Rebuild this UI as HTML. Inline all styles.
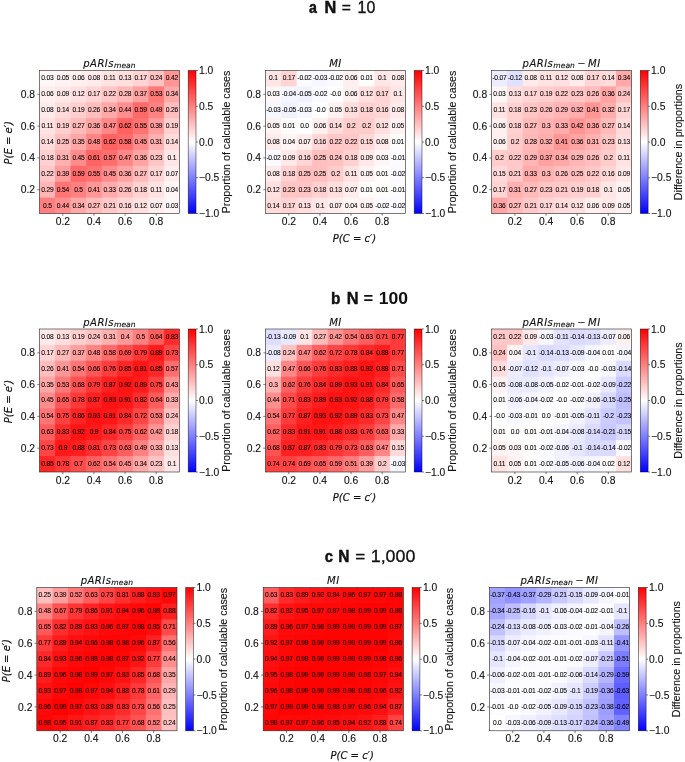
<!DOCTYPE html>
<html lang="en">
<head>
<meta charset="utf-8">
<title>Heatmaps of pARIs mean and MI</title>
<style>
html,body{margin:0;padding:0;background:#fff;}
body{width:685px;height:762px;overflow:hidden;}
svg{display:block;}
</style>
</head>
<body>
<svg width="685" height="762" viewBox="0 0 685 762">
<defs><linearGradient id="bwr" x1="0" y1="0" x2="0" y2="1"><stop offset="0" stop-color="#ff0000"/><stop offset="0.5" stop-color="#ffffff"/><stop offset="1" stop-color="#0000ff"/></linearGradient></defs>
<rect width="685" height="762" fill="#fff"/>
<text transform="translate(308.93 12.5) scale(0.8778 1)" font-family="'Liberation Sans', Arial, Helvetica, sans-serif" font-size="16.1" font-weight="bold" fill="#111" stroke="#111" stroke-width="0.5">a</text>
<text transform="translate(324.56 12.5) scale(1.0127 1)" font-family="'Liberation Sans', Arial, Helvetica, sans-serif" font-size="16.1" font-weight="bold" fill="#111" stroke="#111" stroke-width="0.5">N</text>
<text transform="translate(341.84 12.5) scale(0.9723 1)" font-family="'Liberation Sans', Arial, Helvetica, sans-serif" font-size="16.1" fill="#111" stroke="#111" stroke-width="0.35">=</text>
<text transform="translate(357.56 12.5) scale(0.9893 1)" font-family="'Liberation Sans', Arial, Helvetica, sans-serif" font-size="16.1" fill="#111" stroke="#111" stroke-width="0.35">10</text>
<text transform="translate(331.02 303.5) scale(0.9529 1)" font-family="'Liberation Sans', Arial, Helvetica, sans-serif" font-size="16.2" font-weight="bold" fill="#111" stroke="#111" stroke-width="0.4">b</text>
<text transform="translate(346.86 303.5) scale(1.0127 1)" font-family="'Liberation Sans', Arial, Helvetica, sans-serif" font-size="16.2" font-weight="bold" fill="#111" stroke="#111" stroke-width="0.4">N</text>
<text transform="translate(363.41 303.5) scale(1.0215 1)" font-family="'Liberation Sans', Arial, Helvetica, sans-serif" font-size="16.2" font-weight="bold" fill="#111">=</text>
<text transform="translate(378.77 303.5) scale(1.0837 1)" font-family="'Liberation Sans', Arial, Helvetica, sans-serif" font-size="16.2" font-weight="bold" fill="#111">100</text>
<text transform="translate(324.81 562.1) scale(0.9059 1)" font-family="'Liberation Sans', Arial, Helvetica, sans-serif" font-size="16.3" font-weight="bold" fill="#111" stroke="#111" stroke-width="0.5">c</text>
<text transform="translate(338.32 562.1) scale(0.9500 1)" font-family="'Liberation Sans', Arial, Helvetica, sans-serif" font-size="16.3" font-weight="bold" fill="#111" stroke="#111" stroke-width="0.5">N</text>
<text transform="translate(355.2 562.1) scale(1.0424 1)" font-family="'Liberation Sans', Arial, Helvetica, sans-serif" font-size="16.3" fill="#111" stroke="#111" stroke-width="0.3">=</text>
<text transform="translate(370.72 562.1) scale(1.0939 1)" font-family="'Liberation Sans', Arial, Helvetica, sans-serif" font-size="16.3" fill="#111" stroke="#111" stroke-width="0.3">1,000</text>
<g>
<g>
<rect x="39.5" y="70.5" width="16.56" height="16.89" fill="#fff7f7"/>
<rect x="55.06" y="70.5" width="16.56" height="16.89" fill="#fff2f2"/>
<rect x="70.61" y="70.5" width="16.56" height="16.89" fill="#fff0f0"/>
<rect x="86.17" y="70.5" width="16.56" height="16.89" fill="#ffebeb"/>
<rect x="101.72" y="70.5" width="16.56" height="16.89" fill="#ffe3e3"/>
<rect x="117.28" y="70.5" width="16.56" height="16.89" fill="#ffdede"/>
<rect x="132.83" y="70.5" width="16.56" height="16.89" fill="#ffd4d4"/>
<rect x="148.39" y="70.5" width="16.56" height="16.89" fill="#ffc2c2"/>
<rect x="163.94" y="70.5" width="15.56" height="16.89" fill="#ff9494"/>
<rect x="39.5" y="86.39" width="16.56" height="16.89" fill="#fff0f0"/>
<rect x="55.06" y="86.39" width="16.56" height="16.89" fill="#ffe8e8"/>
<rect x="70.61" y="86.39" width="16.56" height="16.89" fill="#ffe0e0"/>
<rect x="86.17" y="86.39" width="16.56" height="16.89" fill="#ffd4d4"/>
<rect x="101.72" y="86.39" width="16.56" height="16.89" fill="#ffc7c7"/>
<rect x="117.28" y="86.39" width="16.56" height="16.89" fill="#ffb8b8"/>
<rect x="132.83" y="86.39" width="16.56" height="16.89" fill="#ffa1a1"/>
<rect x="148.39" y="86.39" width="16.56" height="16.89" fill="#ff7878"/>
<rect x="163.94" y="86.39" width="15.56" height="16.89" fill="#ffa8a8"/>
<rect x="39.5" y="102.28" width="16.56" height="16.89" fill="#ffebeb"/>
<rect x="55.06" y="102.28" width="16.56" height="16.89" fill="#ffdbdb"/>
<rect x="70.61" y="102.28" width="16.56" height="16.89" fill="#ffcfcf"/>
<rect x="86.17" y="102.28" width="16.56" height="16.89" fill="#ffbdbd"/>
<rect x="101.72" y="102.28" width="16.56" height="16.89" fill="#ffa8a8"/>
<rect x="117.28" y="102.28" width="16.56" height="16.89" fill="#ff8f8f"/>
<rect x="132.83" y="102.28" width="16.56" height="16.89" fill="#ff6969"/>
<rect x="148.39" y="102.28" width="16.56" height="16.89" fill="#ff8282"/>
<rect x="163.94" y="102.28" width="15.56" height="16.89" fill="#ffbdbd"/>
<rect x="39.5" y="118.17" width="16.56" height="16.89" fill="#ffe3e3"/>
<rect x="55.06" y="118.17" width="16.56" height="16.89" fill="#ffcfcf"/>
<rect x="70.61" y="118.17" width="16.56" height="16.89" fill="#ffbaba"/>
<rect x="86.17" y="118.17" width="16.56" height="16.89" fill="#ffa3a3"/>
<rect x="101.72" y="118.17" width="16.56" height="16.89" fill="#ff8787"/>
<rect x="117.28" y="118.17" width="16.56" height="16.89" fill="#ff6161"/>
<rect x="132.83" y="118.17" width="16.56" height="16.89" fill="#ff7373"/>
<rect x="148.39" y="118.17" width="16.56" height="16.89" fill="#ff9c9c"/>
<rect x="163.94" y="118.17" width="15.56" height="16.89" fill="#ffcfcf"/>
<rect x="39.5" y="134.06" width="16.56" height="16.89" fill="#ffdbdb"/>
<rect x="55.06" y="134.06" width="16.56" height="16.89" fill="#ffbfbf"/>
<rect x="70.61" y="134.06" width="16.56" height="16.89" fill="#ffa6a6"/>
<rect x="86.17" y="134.06" width="16.56" height="16.89" fill="#ff8585"/>
<rect x="101.72" y="134.06" width="16.56" height="16.89" fill="#ff6161"/>
<rect x="117.28" y="134.06" width="16.56" height="16.89" fill="#ff6b6b"/>
<rect x="132.83" y="134.06" width="16.56" height="16.89" fill="#ff8c8c"/>
<rect x="148.39" y="134.06" width="16.56" height="16.89" fill="#ffb0b0"/>
<rect x="163.94" y="134.06" width="15.56" height="16.89" fill="#ffdbdb"/>
<rect x="39.5" y="149.94" width="16.56" height="16.89" fill="#ffd1d1"/>
<rect x="55.06" y="149.94" width="16.56" height="16.89" fill="#ffb0b0"/>
<rect x="70.61" y="149.94" width="16.56" height="16.89" fill="#ff8c8c"/>
<rect x="86.17" y="149.94" width="16.56" height="16.89" fill="#ff6363"/>
<rect x="101.72" y="149.94" width="16.56" height="16.89" fill="#ff6e6e"/>
<rect x="117.28" y="149.94" width="16.56" height="16.89" fill="#ff8787"/>
<rect x="132.83" y="149.94" width="16.56" height="16.89" fill="#ffa3a3"/>
<rect x="148.39" y="149.94" width="16.56" height="16.89" fill="#ffc4c4"/>
<rect x="163.94" y="149.94" width="15.56" height="16.89" fill="#ffe6e6"/>
<rect x="39.5" y="165.83" width="16.56" height="16.89" fill="#ffc7c7"/>
<rect x="55.06" y="165.83" width="16.56" height="16.89" fill="#ff9c9c"/>
<rect x="70.61" y="165.83" width="16.56" height="16.89" fill="#ff6969"/>
<rect x="86.17" y="165.83" width="16.56" height="16.89" fill="#ff7373"/>
<rect x="101.72" y="165.83" width="16.56" height="16.89" fill="#ff8c8c"/>
<rect x="117.28" y="165.83" width="16.56" height="16.89" fill="#ffa3a3"/>
<rect x="132.83" y="165.83" width="16.56" height="16.89" fill="#ffbaba"/>
<rect x="148.39" y="165.83" width="16.56" height="16.89" fill="#ffd4d4"/>
<rect x="163.94" y="165.83" width="15.56" height="16.89" fill="#ffeded"/>
<rect x="39.5" y="181.72" width="16.56" height="16.89" fill="#ffb5b5"/>
<rect x="55.06" y="181.72" width="16.56" height="16.89" fill="#ff7575"/>
<rect x="70.61" y="181.72" width="16.56" height="16.89" fill="#ff8080"/>
<rect x="86.17" y="181.72" width="16.56" height="16.89" fill="#ff9696"/>
<rect x="101.72" y="181.72" width="16.56" height="16.89" fill="#ffabab"/>
<rect x="117.28" y="181.72" width="16.56" height="16.89" fill="#ffbdbd"/>
<rect x="132.83" y="181.72" width="16.56" height="16.89" fill="#ffd1d1"/>
<rect x="148.39" y="181.72" width="16.56" height="16.89" fill="#ffe3e3"/>
<rect x="163.94" y="181.72" width="15.56" height="16.89" fill="#fff5f5"/>
<rect x="39.5" y="197.61" width="16.56" height="15.89" fill="#ff8080"/>
<rect x="55.06" y="197.61" width="16.56" height="15.89" fill="#ff8f8f"/>
<rect x="70.61" y="197.61" width="16.56" height="15.89" fill="#ffa8a8"/>
<rect x="86.17" y="197.61" width="16.56" height="15.89" fill="#ffbaba"/>
<rect x="101.72" y="197.61" width="16.56" height="15.89" fill="#ffc9c9"/>
<rect x="117.28" y="197.61" width="16.56" height="15.89" fill="#ffd6d6"/>
<rect x="132.83" y="197.61" width="16.56" height="15.89" fill="#ffe0e0"/>
<rect x="148.39" y="197.61" width="16.56" height="15.89" fill="#ffeded"/>
<rect x="163.94" y="197.61" width="15.56" height="15.89" fill="#fff7f7"/>
</g>
<g font-family="'Liberation Sans', Arial, Helvetica, sans-serif" font-size="6.7" fill="#000" stroke="#000" stroke-width="0.07" letter-spacing="-0.2" text-anchor="middle">
<text x="47.38" y="80.39">0.03</text>
<text x="62.93" y="80.39">0.05</text>
<text x="78.49" y="80.39">0.06</text>
<text x="94.04" y="80.39">0.08</text>
<text x="109.6" y="80.39">0.11</text>
<text x="125.16" y="80.39">0.13</text>
<text x="140.71" y="80.39">0.17</text>
<text x="156.27" y="80.39">0.24</text>
<text x="171.82" y="80.39">0.42</text>
<text x="47.38" y="96.28">0.06</text>
<text x="62.93" y="96.28">0.09</text>
<text x="78.49" y="96.28">0.12</text>
<text x="94.04" y="96.28">0.17</text>
<text x="109.6" y="96.28">0.22</text>
<text x="125.16" y="96.28">0.28</text>
<text x="140.71" y="96.28">0.37</text>
<text x="156.27" y="96.28">0.53</text>
<text x="171.82" y="96.28">0.34</text>
<text x="47.38" y="112.17">0.08</text>
<text x="62.93" y="112.17">0.14</text>
<text x="78.49" y="112.17">0.19</text>
<text x="94.04" y="112.17">0.26</text>
<text x="109.6" y="112.17">0.34</text>
<text x="125.16" y="112.17">0.44</text>
<text x="140.71" y="112.17">0.59</text>
<text x="156.27" y="112.17">0.49</text>
<text x="171.82" y="112.17">0.26</text>
<text x="47.38" y="128.06">0.11</text>
<text x="62.93" y="128.06">0.19</text>
<text x="78.49" y="128.06">0.27</text>
<text x="94.04" y="128.06">0.36</text>
<text x="109.6" y="128.06">0.47</text>
<text x="125.16" y="128.06">0.62</text>
<text x="140.71" y="128.06">0.55</text>
<text x="156.27" y="128.06">0.39</text>
<text x="171.82" y="128.06">0.19</text>
<text x="47.38" y="143.95">0.14</text>
<text x="62.93" y="143.95">0.25</text>
<text x="78.49" y="143.95">0.35</text>
<text x="94.04" y="143.95">0.48</text>
<text x="109.6" y="143.95">0.62</text>
<text x="125.16" y="143.95">0.58</text>
<text x="140.71" y="143.95">0.45</text>
<text x="156.27" y="143.95">0.31</text>
<text x="171.82" y="143.95">0.14</text>
<text x="47.38" y="159.84">0.18</text>
<text x="62.93" y="159.84">0.31</text>
<text x="78.49" y="159.84">0.45</text>
<text x="94.04" y="159.84">0.61</text>
<text x="109.6" y="159.84">0.57</text>
<text x="125.16" y="159.84">0.47</text>
<text x="140.71" y="159.84">0.36</text>
<text x="156.27" y="159.84">0.23</text>
<text x="171.82" y="159.84">0.1</text>
<text x="47.38" y="175.73">0.22</text>
<text x="62.93" y="175.73">0.39</text>
<text x="78.49" y="175.73">0.59</text>
<text x="94.04" y="175.73">0.55</text>
<text x="109.6" y="175.73">0.45</text>
<text x="125.16" y="175.73">0.36</text>
<text x="140.71" y="175.73">0.27</text>
<text x="156.27" y="175.73">0.17</text>
<text x="171.82" y="175.73">0.07</text>
<text x="47.38" y="191.62">0.29</text>
<text x="62.93" y="191.62">0.54</text>
<text x="78.49" y="191.62">0.5</text>
<text x="94.04" y="191.62">0.41</text>
<text x="109.6" y="191.62">0.33</text>
<text x="125.16" y="191.62">0.26</text>
<text x="140.71" y="191.62">0.18</text>
<text x="156.27" y="191.62">0.11</text>
<text x="171.82" y="191.62">0.04</text>
<text x="47.38" y="207.51">0.5</text>
<text x="62.93" y="207.51">0.44</text>
<text x="78.49" y="207.51">0.34</text>
<text x="94.04" y="207.51">0.27</text>
<text x="109.6" y="207.51">0.21</text>
<text x="125.16" y="207.51">0.16</text>
<text x="140.71" y="207.51">0.12</text>
<text x="156.27" y="207.51">0.07</text>
<text x="171.82" y="207.51">0.03</text>
</g>
<rect x="39.5" y="70.5" width="140" height="143" fill="none" stroke="#222" stroke-width="0.6"/>
<g stroke="#222" stroke-width="0.6">
<line x1="62.83" y1="213.5" x2="62.83" y2="215.7"/>
<line x1="37.3" y1="94.33" x2="39.5" y2="94.33"/>
<line x1="93.94" y1="213.5" x2="93.94" y2="215.7"/>
<line x1="37.3" y1="126.11" x2="39.5" y2="126.11"/>
<line x1="125.06" y1="213.5" x2="125.06" y2="215.7"/>
<line x1="37.3" y1="157.89" x2="39.5" y2="157.89"/>
<line x1="156.17" y1="213.5" x2="156.17" y2="215.7"/>
<line x1="37.3" y1="189.67" x2="39.5" y2="189.67"/>
</g>
<g font-family="'Liberation Sans', Arial, Helvetica, sans-serif" font-size="10.3" fill="#111" stroke="#111" stroke-width="0.12">
<text x="62.83" y="224.8" text-anchor="middle">0.2</text>
<text x="93.94" y="224.8" text-anchor="middle">0.4</text>
<text x="125.06" y="224.8" text-anchor="middle">0.6</text>
<text x="156.17" y="224.8" text-anchor="middle">0.8</text>
<text x="35.1" y="97.93" text-anchor="end">0.8</text>
<text x="35.1" y="129.71" text-anchor="end">0.6</text>
<text x="35.1" y="161.49" text-anchor="end">0.4</text>
<text x="35.1" y="193.27" text-anchor="end">0.2</text>
</g>
<text x="109.5" y="67.3" font-family="'DejaVu Sans', 'Liberation Sans', sans-serif" font-style="oblique" font-size="10.1" letter-spacing="0.42" fill="#111" stroke="#111" stroke-width="0.12" text-anchor="middle">pARIs<tspan font-size="7.6" letter-spacing="0.05" dy="1.0">mean</tspan></text>
<text transform="translate(12.3 142.8) rotate(-90)" font-family="'DejaVu Sans', 'Liberation Sans', sans-serif" font-style="oblique" font-size="10" fill="#111" stroke="#111" stroke-width="0.2" text-anchor="middle">P(E = e′)</text>
<rect x="188.2" y="70.5" width="7.8" height="143" fill="url(#bwr)" stroke="#000" stroke-opacity="0.75" stroke-width="0.6"/>
<g stroke="#222" stroke-width="0.6">
<line x1="196" y1="70.5" x2="197.9" y2="70.5"/>
<line x1="196" y1="106.25" x2="197.9" y2="106.25"/>
<line x1="196" y1="142" x2="197.9" y2="142"/>
<line x1="196" y1="177.75" x2="197.9" y2="177.75"/>
<line x1="196" y1="213.5" x2="197.9" y2="213.5"/>
</g>
<g font-family="'Liberation Sans', Arial, Helvetica, sans-serif" font-size="10.3" fill="#111" stroke="#111" stroke-width="0.12">
<text x="199" y="74.1">1.0</text>
<text x="199" y="109.85">0.5</text>
<text x="199" y="145.6">0.0</text>
<text x="199" y="181.35">−0.5</text>
<text x="199" y="217.1">−1.0</text>
</g>
<text transform="translate(229.5 142) rotate(-90)" font-family="'Liberation Sans', Arial, Helvetica, sans-serif" font-size="10.7" fill="#111" stroke="#111" stroke-width="0.12" text-anchor="middle">Proportion of calculable cases</text>
</g>
<g>
<g>
<rect x="265.5" y="70.5" width="16.56" height="16.89" fill="#ffe6e6"/>
<rect x="281.06" y="70.5" width="16.56" height="16.89" fill="#ffd4d4"/>
<rect x="296.61" y="70.5" width="16.56" height="16.89" fill="#fafaff"/>
<rect x="312.17" y="70.5" width="16.56" height="16.89" fill="#f7f7ff"/>
<rect x="327.72" y="70.5" width="16.56" height="16.89" fill="#fafaff"/>
<rect x="343.28" y="70.5" width="16.56" height="16.89" fill="#fff0f0"/>
<rect x="358.83" y="70.5" width="16.56" height="16.89" fill="#fffcfc"/>
<rect x="374.39" y="70.5" width="16.56" height="16.89" fill="#ffe6e6"/>
<rect x="389.94" y="70.5" width="15.56" height="16.89" fill="#ffebeb"/>
<rect x="265.5" y="86.39" width="16.56" height="16.89" fill="#fff7f7"/>
<rect x="281.06" y="86.39" width="16.56" height="16.89" fill="#f5f5ff"/>
<rect x="296.61" y="86.39" width="16.56" height="16.89" fill="#f2f2ff"/>
<rect x="312.17" y="86.39" width="16.56" height="16.89" fill="#fafaff"/>
<rect x="327.72" y="86.39" width="16.56" height="16.89" fill="#ffffff"/>
<rect x="343.28" y="86.39" width="16.56" height="16.89" fill="#fff0f0"/>
<rect x="358.83" y="86.39" width="16.56" height="16.89" fill="#ffe0e0"/>
<rect x="374.39" y="86.39" width="16.56" height="16.89" fill="#ffd4d4"/>
<rect x="389.94" y="86.39" width="15.56" height="16.89" fill="#ffe6e6"/>
<rect x="265.5" y="102.28" width="16.56" height="16.89" fill="#f7f7ff"/>
<rect x="281.06" y="102.28" width="16.56" height="16.89" fill="#f2f2ff"/>
<rect x="296.61" y="102.28" width="16.56" height="16.89" fill="#f7f7ff"/>
<rect x="312.17" y="102.28" width="16.56" height="16.89" fill="#ffffff"/>
<rect x="327.72" y="102.28" width="16.56" height="16.89" fill="#fff2f2"/>
<rect x="343.28" y="102.28" width="16.56" height="16.89" fill="#ffdede"/>
<rect x="358.83" y="102.28" width="16.56" height="16.89" fill="#ffd1d1"/>
<rect x="374.39" y="102.28" width="16.56" height="16.89" fill="#ffd6d6"/>
<rect x="389.94" y="102.28" width="15.56" height="16.89" fill="#ffebeb"/>
<rect x="265.5" y="118.17" width="16.56" height="16.89" fill="#fff2f2"/>
<rect x="281.06" y="118.17" width="16.56" height="16.89" fill="#fffcfc"/>
<rect x="296.61" y="118.17" width="16.56" height="16.89" fill="#ffffff"/>
<rect x="312.17" y="118.17" width="16.56" height="16.89" fill="#fff0f0"/>
<rect x="327.72" y="118.17" width="16.56" height="16.89" fill="#ffdbdb"/>
<rect x="343.28" y="118.17" width="16.56" height="16.89" fill="#ffcccc"/>
<rect x="358.83" y="118.17" width="16.56" height="16.89" fill="#ffcccc"/>
<rect x="374.39" y="118.17" width="16.56" height="16.89" fill="#ffe0e0"/>
<rect x="389.94" y="118.17" width="15.56" height="16.89" fill="#fff2f2"/>
<rect x="265.5" y="134.06" width="16.56" height="16.89" fill="#ffebeb"/>
<rect x="281.06" y="134.06" width="16.56" height="16.89" fill="#fff5f5"/>
<rect x="296.61" y="134.06" width="16.56" height="16.89" fill="#ffeded"/>
<rect x="312.17" y="134.06" width="16.56" height="16.89" fill="#ffd6d6"/>
<rect x="327.72" y="134.06" width="16.56" height="16.89" fill="#ffc7c7"/>
<rect x="343.28" y="134.06" width="16.56" height="16.89" fill="#ffc7c7"/>
<rect x="358.83" y="134.06" width="16.56" height="16.89" fill="#ffd9d9"/>
<rect x="374.39" y="134.06" width="16.56" height="16.89" fill="#ffebeb"/>
<rect x="389.94" y="134.06" width="15.56" height="16.89" fill="#fffcfc"/>
<rect x="265.5" y="149.94" width="16.56" height="16.89" fill="#fafaff"/>
<rect x="281.06" y="149.94" width="16.56" height="16.89" fill="#ffe8e8"/>
<rect x="296.61" y="149.94" width="16.56" height="16.89" fill="#ffd6d6"/>
<rect x="312.17" y="149.94" width="16.56" height="16.89" fill="#ffbfbf"/>
<rect x="327.72" y="149.94" width="16.56" height="16.89" fill="#ffc2c2"/>
<rect x="343.28" y="149.94" width="16.56" height="16.89" fill="#ffd1d1"/>
<rect x="358.83" y="149.94" width="16.56" height="16.89" fill="#ffe8e8"/>
<rect x="374.39" y="149.94" width="16.56" height="16.89" fill="#fff7f7"/>
<rect x="389.94" y="149.94" width="15.56" height="16.89" fill="#fcfcff"/>
<rect x="265.5" y="165.83" width="16.56" height="16.89" fill="#ffebeb"/>
<rect x="281.06" y="165.83" width="16.56" height="16.89" fill="#ffd1d1"/>
<rect x="296.61" y="165.83" width="16.56" height="16.89" fill="#ffbfbf"/>
<rect x="312.17" y="165.83" width="16.56" height="16.89" fill="#ffbfbf"/>
<rect x="327.72" y="165.83" width="16.56" height="16.89" fill="#ffcccc"/>
<rect x="343.28" y="165.83" width="16.56" height="16.89" fill="#ffe3e3"/>
<rect x="358.83" y="165.83" width="16.56" height="16.89" fill="#fff2f2"/>
<rect x="374.39" y="165.83" width="16.56" height="16.89" fill="#fffcfc"/>
<rect x="389.94" y="165.83" width="15.56" height="16.89" fill="#fafaff"/>
<rect x="265.5" y="181.72" width="16.56" height="16.89" fill="#ffe0e0"/>
<rect x="281.06" y="181.72" width="16.56" height="16.89" fill="#ffc4c4"/>
<rect x="296.61" y="181.72" width="16.56" height="16.89" fill="#ffc4c4"/>
<rect x="312.17" y="181.72" width="16.56" height="16.89" fill="#ffd1d1"/>
<rect x="327.72" y="181.72" width="16.56" height="16.89" fill="#ffdede"/>
<rect x="343.28" y="181.72" width="16.56" height="16.89" fill="#ffeded"/>
<rect x="358.83" y="181.72" width="16.56" height="16.89" fill="#fffcfc"/>
<rect x="374.39" y="181.72" width="16.56" height="16.89" fill="#fffcfc"/>
<rect x="389.94" y="181.72" width="15.56" height="16.89" fill="#fcfcff"/>
<rect x="265.5" y="197.61" width="16.56" height="15.89" fill="#ffdbdb"/>
<rect x="281.06" y="197.61" width="16.56" height="15.89" fill="#ffd4d4"/>
<rect x="296.61" y="197.61" width="16.56" height="15.89" fill="#ffdede"/>
<rect x="312.17" y="197.61" width="16.56" height="15.89" fill="#ffe6e6"/>
<rect x="327.72" y="197.61" width="16.56" height="15.89" fill="#ffeded"/>
<rect x="343.28" y="197.61" width="16.56" height="15.89" fill="#fff5f5"/>
<rect x="358.83" y="197.61" width="16.56" height="15.89" fill="#fff2f2"/>
<rect x="374.39" y="197.61" width="16.56" height="15.89" fill="#fafaff"/>
<rect x="389.94" y="197.61" width="15.56" height="15.89" fill="#fafaff"/>
</g>
<g font-family="'Liberation Sans', Arial, Helvetica, sans-serif" font-size="6.7" fill="#000" stroke="#000" stroke-width="0.07" letter-spacing="-0.2" text-anchor="middle">
<text x="273.38" y="80.39">0.1</text>
<text x="288.93" y="80.39">0.17</text>
<text x="304.49" y="80.39">-0.02</text>
<text x="320.04" y="80.39">-0.03</text>
<text x="335.6" y="80.39">-0.02</text>
<text x="351.16" y="80.39">0.06</text>
<text x="366.71" y="80.39">0.01</text>
<text x="382.27" y="80.39">0.1</text>
<text x="397.82" y="80.39">0.08</text>
<text x="273.38" y="96.28">0.03</text>
<text x="288.93" y="96.28">-0.04</text>
<text x="304.49" y="96.28">-0.05</text>
<text x="320.04" y="96.28">-0.02</text>
<text x="335.6" y="96.28">-0.0</text>
<text x="351.16" y="96.28">0.06</text>
<text x="366.71" y="96.28">0.12</text>
<text x="382.27" y="96.28">0.17</text>
<text x="397.82" y="96.28">0.1</text>
<text x="273.38" y="112.17">-0.03</text>
<text x="288.93" y="112.17">-0.05</text>
<text x="304.49" y="112.17">-0.03</text>
<text x="320.04" y="112.17">-0.0</text>
<text x="335.6" y="112.17">0.05</text>
<text x="351.16" y="112.17">0.13</text>
<text x="366.71" y="112.17">0.18</text>
<text x="382.27" y="112.17">0.16</text>
<text x="397.82" y="112.17">0.08</text>
<text x="273.38" y="128.06">0.05</text>
<text x="288.93" y="128.06">0.01</text>
<text x="304.49" y="128.06">0.0</text>
<text x="320.04" y="128.06">0.06</text>
<text x="335.6" y="128.06">0.14</text>
<text x="351.16" y="128.06">0.2</text>
<text x="366.71" y="128.06">0.2</text>
<text x="382.27" y="128.06">0.12</text>
<text x="397.82" y="128.06">0.05</text>
<text x="273.38" y="143.95">0.08</text>
<text x="288.93" y="143.95">0.04</text>
<text x="304.49" y="143.95">0.07</text>
<text x="320.04" y="143.95">0.16</text>
<text x="335.6" y="143.95">0.22</text>
<text x="351.16" y="143.95">0.22</text>
<text x="366.71" y="143.95">0.15</text>
<text x="382.27" y="143.95">0.08</text>
<text x="397.82" y="143.95">0.01</text>
<text x="273.38" y="159.84">-0.02</text>
<text x="288.93" y="159.84">0.09</text>
<text x="304.49" y="159.84">0.16</text>
<text x="320.04" y="159.84">0.25</text>
<text x="335.6" y="159.84">0.24</text>
<text x="351.16" y="159.84">0.18</text>
<text x="366.71" y="159.84">0.09</text>
<text x="382.27" y="159.84">0.03</text>
<text x="397.82" y="159.84">-0.01</text>
<text x="273.38" y="175.73">0.08</text>
<text x="288.93" y="175.73">0.18</text>
<text x="304.49" y="175.73">0.25</text>
<text x="320.04" y="175.73">0.25</text>
<text x="335.6" y="175.73">0.2</text>
<text x="351.16" y="175.73">0.11</text>
<text x="366.71" y="175.73">0.05</text>
<text x="382.27" y="175.73">0.01</text>
<text x="397.82" y="175.73">-0.02</text>
<text x="273.38" y="191.62">0.12</text>
<text x="288.93" y="191.62">0.23</text>
<text x="304.49" y="191.62">0.23</text>
<text x="320.04" y="191.62">0.18</text>
<text x="335.6" y="191.62">0.13</text>
<text x="351.16" y="191.62">0.07</text>
<text x="366.71" y="191.62">0.01</text>
<text x="382.27" y="191.62">0.01</text>
<text x="397.82" y="191.62">-0.01</text>
<text x="273.38" y="207.51">0.14</text>
<text x="288.93" y="207.51">0.17</text>
<text x="304.49" y="207.51">0.13</text>
<text x="320.04" y="207.51">0.1</text>
<text x="335.6" y="207.51">0.07</text>
<text x="351.16" y="207.51">0.04</text>
<text x="366.71" y="207.51">0.05</text>
<text x="382.27" y="207.51">-0.02</text>
<text x="397.82" y="207.51">-0.02</text>
</g>
<rect x="265.5" y="70.5" width="140" height="143" fill="none" stroke="#222" stroke-width="0.6"/>
<g stroke="#222" stroke-width="0.6">
<line x1="288.83" y1="213.5" x2="288.83" y2="215.7"/>
<line x1="263.3" y1="94.33" x2="265.5" y2="94.33"/>
<line x1="319.94" y1="213.5" x2="319.94" y2="215.7"/>
<line x1="263.3" y1="126.11" x2="265.5" y2="126.11"/>
<line x1="351.06" y1="213.5" x2="351.06" y2="215.7"/>
<line x1="263.3" y1="157.89" x2="265.5" y2="157.89"/>
<line x1="382.17" y1="213.5" x2="382.17" y2="215.7"/>
<line x1="263.3" y1="189.67" x2="265.5" y2="189.67"/>
</g>
<g font-family="'Liberation Sans', Arial, Helvetica, sans-serif" font-size="10.3" fill="#111" stroke="#111" stroke-width="0.12">
<text x="288.83" y="224.8" text-anchor="middle">0.2</text>
<text x="319.94" y="224.8" text-anchor="middle">0.4</text>
<text x="351.06" y="224.8" text-anchor="middle">0.6</text>
<text x="382.17" y="224.8" text-anchor="middle">0.8</text>
<text x="261.1" y="97.93" text-anchor="end">0.8</text>
<text x="261.1" y="129.71" text-anchor="end">0.6</text>
<text x="261.1" y="161.49" text-anchor="end">0.4</text>
<text x="261.1" y="193.27" text-anchor="end">0.2</text>
</g>
<text x="335.5" y="67.3" font-family="'DejaVu Sans', 'Liberation Sans', sans-serif" font-style="oblique" font-size="10.1" letter-spacing="0.42" fill="#111" stroke="#111" stroke-width="0.12" text-anchor="middle">MI</text>
<text x="354.5" y="241.7" font-family="'DejaVu Sans', 'Liberation Sans', sans-serif" font-style="oblique" font-size="10" fill="#111" stroke="#111" stroke-width="0.2" text-anchor="middle">P(C = c′)</text>
<rect x="414.2" y="70.5" width="7.8" height="143" fill="url(#bwr)" stroke="#000" stroke-opacity="0.75" stroke-width="0.6"/>
<g stroke="#222" stroke-width="0.6">
<line x1="422" y1="70.5" x2="423.9" y2="70.5"/>
<line x1="422" y1="106.25" x2="423.9" y2="106.25"/>
<line x1="422" y1="142" x2="423.9" y2="142"/>
<line x1="422" y1="177.75" x2="423.9" y2="177.75"/>
<line x1="422" y1="213.5" x2="423.9" y2="213.5"/>
</g>
<g font-family="'Liberation Sans', Arial, Helvetica, sans-serif" font-size="10.3" fill="#111" stroke="#111" stroke-width="0.12">
<text x="425" y="74.1">1.0</text>
<text x="425" y="109.85">0.5</text>
<text x="425" y="145.6">0.0</text>
<text x="425" y="181.35">−0.5</text>
<text x="425" y="217.1">−1.0</text>
</g>
<text transform="translate(455.5 142) rotate(-90)" font-family="'Liberation Sans', Arial, Helvetica, sans-serif" font-size="10.7" fill="#111" stroke="#111" stroke-width="0.12" text-anchor="middle">Proportion of calculable cases</text>
</g>
<g>
<g>
<rect x="491.6" y="70.5" width="16.56" height="16.89" fill="#ededff"/>
<rect x="507.16" y="70.5" width="16.56" height="16.89" fill="#e0e0ff"/>
<rect x="522.71" y="70.5" width="16.56" height="16.89" fill="#ffebeb"/>
<rect x="538.27" y="70.5" width="16.56" height="16.89" fill="#ffe3e3"/>
<rect x="553.82" y="70.5" width="16.56" height="16.89" fill="#ffe0e0"/>
<rect x="569.38" y="70.5" width="16.56" height="16.89" fill="#ffebeb"/>
<rect x="584.93" y="70.5" width="16.56" height="16.89" fill="#ffd4d4"/>
<rect x="600.49" y="70.5" width="16.56" height="16.89" fill="#ffdbdb"/>
<rect x="616.04" y="70.5" width="15.56" height="16.89" fill="#ffa8a8"/>
<rect x="491.6" y="86.39" width="16.56" height="16.89" fill="#fff7f7"/>
<rect x="507.16" y="86.39" width="16.56" height="16.89" fill="#ffdede"/>
<rect x="522.71" y="86.39" width="16.56" height="16.89" fill="#ffd4d4"/>
<rect x="538.27" y="86.39" width="16.56" height="16.89" fill="#ffcfcf"/>
<rect x="553.82" y="86.39" width="16.56" height="16.89" fill="#ffc7c7"/>
<rect x="569.38" y="86.39" width="16.56" height="16.89" fill="#ffc4c4"/>
<rect x="584.93" y="86.39" width="16.56" height="16.89" fill="#ffbdbd"/>
<rect x="600.49" y="86.39" width="16.56" height="16.89" fill="#ffa3a3"/>
<rect x="616.04" y="86.39" width="15.56" height="16.89" fill="#ffc2c2"/>
<rect x="491.6" y="102.28" width="16.56" height="16.89" fill="#ffe3e3"/>
<rect x="507.16" y="102.28" width="16.56" height="16.89" fill="#ffd1d1"/>
<rect x="522.71" y="102.28" width="16.56" height="16.89" fill="#ffc4c4"/>
<rect x="538.27" y="102.28" width="16.56" height="16.89" fill="#ffbdbd"/>
<rect x="553.82" y="102.28" width="16.56" height="16.89" fill="#ffb5b5"/>
<rect x="569.38" y="102.28" width="16.56" height="16.89" fill="#ffadad"/>
<rect x="584.93" y="102.28" width="16.56" height="16.89" fill="#ff9696"/>
<rect x="600.49" y="102.28" width="16.56" height="16.89" fill="#ffadad"/>
<rect x="616.04" y="102.28" width="15.56" height="16.89" fill="#ffd4d4"/>
<rect x="491.6" y="118.17" width="16.56" height="16.89" fill="#fff0f0"/>
<rect x="507.16" y="118.17" width="16.56" height="16.89" fill="#ffd1d1"/>
<rect x="522.71" y="118.17" width="16.56" height="16.89" fill="#ffbaba"/>
<rect x="538.27" y="118.17" width="16.56" height="16.89" fill="#ffb2b2"/>
<rect x="553.82" y="118.17" width="16.56" height="16.89" fill="#ffabab"/>
<rect x="569.38" y="118.17" width="16.56" height="16.89" fill="#ff9494"/>
<rect x="584.93" y="118.17" width="16.56" height="16.89" fill="#ffa3a3"/>
<rect x="600.49" y="118.17" width="16.56" height="16.89" fill="#ffbaba"/>
<rect x="616.04" y="118.17" width="15.56" height="16.89" fill="#ffdbdb"/>
<rect x="491.6" y="134.06" width="16.56" height="16.89" fill="#fff0f0"/>
<rect x="507.16" y="134.06" width="16.56" height="16.89" fill="#ffcccc"/>
<rect x="522.71" y="134.06" width="16.56" height="16.89" fill="#ffb8b8"/>
<rect x="538.27" y="134.06" width="16.56" height="16.89" fill="#ffadad"/>
<rect x="553.82" y="134.06" width="16.56" height="16.89" fill="#ff9696"/>
<rect x="569.38" y="134.06" width="16.56" height="16.89" fill="#ffa3a3"/>
<rect x="584.93" y="134.06" width="16.56" height="16.89" fill="#ffb0b0"/>
<rect x="600.49" y="134.06" width="16.56" height="16.89" fill="#ffc4c4"/>
<rect x="616.04" y="134.06" width="15.56" height="16.89" fill="#ffdede"/>
<rect x="491.6" y="149.94" width="16.56" height="16.89" fill="#ffcccc"/>
<rect x="507.16" y="149.94" width="16.56" height="16.89" fill="#ffc7c7"/>
<rect x="522.71" y="149.94" width="16.56" height="16.89" fill="#ffb5b5"/>
<rect x="538.27" y="149.94" width="16.56" height="16.89" fill="#ffa1a1"/>
<rect x="553.82" y="149.94" width="16.56" height="16.89" fill="#ffa8a8"/>
<rect x="569.38" y="149.94" width="16.56" height="16.89" fill="#ffb5b5"/>
<rect x="584.93" y="149.94" width="16.56" height="16.89" fill="#ffbdbd"/>
<rect x="600.49" y="149.94" width="16.56" height="16.89" fill="#ffcccc"/>
<rect x="616.04" y="149.94" width="15.56" height="16.89" fill="#ffe3e3"/>
<rect x="491.6" y="165.83" width="16.56" height="16.89" fill="#ffd9d9"/>
<rect x="507.16" y="165.83" width="16.56" height="16.89" fill="#ffc9c9"/>
<rect x="522.71" y="165.83" width="16.56" height="16.89" fill="#ffabab"/>
<rect x="538.27" y="165.83" width="16.56" height="16.89" fill="#ffb2b2"/>
<rect x="553.82" y="165.83" width="16.56" height="16.89" fill="#ffbdbd"/>
<rect x="569.38" y="165.83" width="16.56" height="16.89" fill="#ffbfbf"/>
<rect x="584.93" y="165.83" width="16.56" height="16.89" fill="#ffc7c7"/>
<rect x="600.49" y="165.83" width="16.56" height="16.89" fill="#ffd6d6"/>
<rect x="616.04" y="165.83" width="15.56" height="16.89" fill="#ffe8e8"/>
<rect x="491.6" y="181.72" width="16.56" height="16.89" fill="#ffd4d4"/>
<rect x="507.16" y="181.72" width="16.56" height="16.89" fill="#ffb0b0"/>
<rect x="522.71" y="181.72" width="16.56" height="16.89" fill="#ffbaba"/>
<rect x="538.27" y="181.72" width="16.56" height="16.89" fill="#ffc4c4"/>
<rect x="553.82" y="181.72" width="16.56" height="16.89" fill="#ffc9c9"/>
<rect x="569.38" y="181.72" width="16.56" height="16.89" fill="#ffcfcf"/>
<rect x="584.93" y="181.72" width="16.56" height="16.89" fill="#ffd1d1"/>
<rect x="600.49" y="181.72" width="16.56" height="16.89" fill="#ffe6e6"/>
<rect x="616.04" y="181.72" width="15.56" height="16.89" fill="#fff2f2"/>
<rect x="491.6" y="197.61" width="16.56" height="15.89" fill="#ffa3a3"/>
<rect x="507.16" y="197.61" width="16.56" height="15.89" fill="#ffbaba"/>
<rect x="522.71" y="197.61" width="16.56" height="15.89" fill="#ffc9c9"/>
<rect x="538.27" y="197.61" width="16.56" height="15.89" fill="#ffd4d4"/>
<rect x="553.82" y="197.61" width="16.56" height="15.89" fill="#ffdbdb"/>
<rect x="569.38" y="197.61" width="16.56" height="15.89" fill="#ffe0e0"/>
<rect x="584.93" y="197.61" width="16.56" height="15.89" fill="#fff0f0"/>
<rect x="600.49" y="197.61" width="16.56" height="15.89" fill="#ffe8e8"/>
<rect x="616.04" y="197.61" width="15.56" height="15.89" fill="#fff2f2"/>
</g>
<g font-family="'Liberation Sans', Arial, Helvetica, sans-serif" font-size="6.7" fill="#000" stroke="#000" stroke-width="0.07" letter-spacing="-0.2" text-anchor="middle">
<text x="499.48" y="80.39">-0.07</text>
<text x="515.03" y="80.39">-0.12</text>
<text x="530.59" y="80.39">0.08</text>
<text x="546.14" y="80.39">0.11</text>
<text x="561.7" y="80.39">0.12</text>
<text x="577.26" y="80.39">0.08</text>
<text x="592.81" y="80.39">0.17</text>
<text x="608.37" y="80.39">0.14</text>
<text x="623.92" y="80.39">0.34</text>
<text x="499.48" y="96.28">0.03</text>
<text x="515.03" y="96.28">0.13</text>
<text x="530.59" y="96.28">0.17</text>
<text x="546.14" y="96.28">0.19</text>
<text x="561.7" y="96.28">0.22</text>
<text x="577.26" y="96.28">0.23</text>
<text x="592.81" y="96.28">0.26</text>
<text x="608.37" y="96.28">0.36</text>
<text x="623.92" y="96.28">0.24</text>
<text x="499.48" y="112.17">0.11</text>
<text x="515.03" y="112.17">0.18</text>
<text x="530.59" y="112.17">0.23</text>
<text x="546.14" y="112.17">0.26</text>
<text x="561.7" y="112.17">0.29</text>
<text x="577.26" y="112.17">0.32</text>
<text x="592.81" y="112.17">0.41</text>
<text x="608.37" y="112.17">0.32</text>
<text x="623.92" y="112.17">0.17</text>
<text x="499.48" y="128.06">0.06</text>
<text x="515.03" y="128.06">0.18</text>
<text x="530.59" y="128.06">0.27</text>
<text x="546.14" y="128.06">0.3</text>
<text x="561.7" y="128.06">0.33</text>
<text x="577.26" y="128.06">0.42</text>
<text x="592.81" y="128.06">0.36</text>
<text x="608.37" y="128.06">0.27</text>
<text x="623.92" y="128.06">0.14</text>
<text x="499.48" y="143.95">0.06</text>
<text x="515.03" y="143.95">0.2</text>
<text x="530.59" y="143.95">0.28</text>
<text x="546.14" y="143.95">0.32</text>
<text x="561.7" y="143.95">0.41</text>
<text x="577.26" y="143.95">0.36</text>
<text x="592.81" y="143.95">0.31</text>
<text x="608.37" y="143.95">0.23</text>
<text x="623.92" y="143.95">0.13</text>
<text x="499.48" y="159.84">0.2</text>
<text x="515.03" y="159.84">0.22</text>
<text x="530.59" y="159.84">0.29</text>
<text x="546.14" y="159.84">0.37</text>
<text x="561.7" y="159.84">0.34</text>
<text x="577.26" y="159.84">0.29</text>
<text x="592.81" y="159.84">0.26</text>
<text x="608.37" y="159.84">0.2</text>
<text x="623.92" y="159.84">0.11</text>
<text x="499.48" y="175.73">0.15</text>
<text x="515.03" y="175.73">0.21</text>
<text x="530.59" y="175.73">0.33</text>
<text x="546.14" y="175.73">0.3</text>
<text x="561.7" y="175.73">0.26</text>
<text x="577.26" y="175.73">0.25</text>
<text x="592.81" y="175.73">0.22</text>
<text x="608.37" y="175.73">0.16</text>
<text x="623.92" y="175.73">0.09</text>
<text x="499.48" y="191.62">0.17</text>
<text x="515.03" y="191.62">0.31</text>
<text x="530.59" y="191.62">0.27</text>
<text x="546.14" y="191.62">0.23</text>
<text x="561.7" y="191.62">0.21</text>
<text x="577.26" y="191.62">0.19</text>
<text x="592.81" y="191.62">0.18</text>
<text x="608.37" y="191.62">0.1</text>
<text x="623.92" y="191.62">0.05</text>
<text x="499.48" y="207.51">0.36</text>
<text x="515.03" y="207.51">0.27</text>
<text x="530.59" y="207.51">0.21</text>
<text x="546.14" y="207.51">0.17</text>
<text x="561.7" y="207.51">0.14</text>
<text x="577.26" y="207.51">0.12</text>
<text x="592.81" y="207.51">0.06</text>
<text x="608.37" y="207.51">0.09</text>
<text x="623.92" y="207.51">0.05</text>
</g>
<rect x="491.6" y="70.5" width="140" height="143" fill="none" stroke="#222" stroke-width="0.6"/>
<g stroke="#222" stroke-width="0.6">
<line x1="514.93" y1="213.5" x2="514.93" y2="215.7"/>
<line x1="489.4" y1="94.33" x2="491.6" y2="94.33"/>
<line x1="546.04" y1="213.5" x2="546.04" y2="215.7"/>
<line x1="489.4" y1="126.11" x2="491.6" y2="126.11"/>
<line x1="577.16" y1="213.5" x2="577.16" y2="215.7"/>
<line x1="489.4" y1="157.89" x2="491.6" y2="157.89"/>
<line x1="608.27" y1="213.5" x2="608.27" y2="215.7"/>
<line x1="489.4" y1="189.67" x2="491.6" y2="189.67"/>
</g>
<g font-family="'Liberation Sans', Arial, Helvetica, sans-serif" font-size="10.3" fill="#111" stroke="#111" stroke-width="0.12">
<text x="514.93" y="224.8" text-anchor="middle">0.2</text>
<text x="546.04" y="224.8" text-anchor="middle">0.4</text>
<text x="577.16" y="224.8" text-anchor="middle">0.6</text>
<text x="608.27" y="224.8" text-anchor="middle">0.8</text>
<text x="487.2" y="97.93" text-anchor="end">0.8</text>
<text x="487.2" y="129.71" text-anchor="end">0.6</text>
<text x="487.2" y="161.49" text-anchor="end">0.4</text>
<text x="487.2" y="193.27" text-anchor="end">0.2</text>
</g>
<text x="561.6" y="67.3" font-family="'DejaVu Sans', 'Liberation Sans', sans-serif" font-style="oblique" font-size="10.1" letter-spacing="0.42" fill="#111" stroke="#111" stroke-width="0.12" text-anchor="middle">pARIs<tspan font-size="7.6" letter-spacing="0.05" dy="1.0">mean</tspan><tspan dy="-1.0" letter-spacing="0" word-spacing="-0.9"> − </tspan><tspan>MI</tspan></text>
<rect x="640.3" y="70.5" width="7.8" height="143" fill="url(#bwr)" stroke="#000" stroke-opacity="0.75" stroke-width="0.6"/>
<g stroke="#222" stroke-width="0.6">
<line x1="648.1" y1="70.5" x2="650" y2="70.5"/>
<line x1="648.1" y1="106.25" x2="650" y2="106.25"/>
<line x1="648.1" y1="142" x2="650" y2="142"/>
<line x1="648.1" y1="177.75" x2="650" y2="177.75"/>
<line x1="648.1" y1="213.5" x2="650" y2="213.5"/>
</g>
<g font-family="'Liberation Sans', Arial, Helvetica, sans-serif" font-size="10.3" fill="#111" stroke="#111" stroke-width="0.12">
<text x="651.1" y="74.1">1.0</text>
<text x="651.1" y="109.85">0.5</text>
<text x="651.1" y="145.6">0.0</text>
<text x="651.1" y="181.35">−0.5</text>
<text x="651.1" y="217.1">−1.0</text>
</g>
<text transform="translate(681.6 142) rotate(-90)" font-family="'Liberation Sans', Arial, Helvetica, sans-serif" font-size="10.7" fill="#111" stroke="#111" stroke-width="0.12" text-anchor="middle">Difference in proportions</text>
</g>
<g>
<g>
<rect x="39.5" y="329" width="16.56" height="16.89" fill="#ffebeb"/>
<rect x="55.06" y="329" width="16.56" height="16.89" fill="#ffdede"/>
<rect x="70.61" y="329" width="16.56" height="16.89" fill="#ffcfcf"/>
<rect x="86.17" y="329" width="16.56" height="16.89" fill="#ffc2c2"/>
<rect x="101.72" y="329" width="16.56" height="16.89" fill="#ffb0b0"/>
<rect x="117.28" y="329" width="16.56" height="16.89" fill="#ff9999"/>
<rect x="132.83" y="329" width="16.56" height="16.89" fill="#ff8080"/>
<rect x="148.39" y="329" width="16.56" height="16.89" fill="#ff5c5c"/>
<rect x="163.94" y="329" width="15.56" height="16.89" fill="#ff2b2b"/>
<rect x="39.5" y="344.89" width="16.56" height="16.89" fill="#ffd4d4"/>
<rect x="55.06" y="344.89" width="16.56" height="16.89" fill="#ffbaba"/>
<rect x="70.61" y="344.89" width="16.56" height="16.89" fill="#ffa1a1"/>
<rect x="86.17" y="344.89" width="16.56" height="16.89" fill="#ff8585"/>
<rect x="101.72" y="344.89" width="16.56" height="16.89" fill="#ff6b6b"/>
<rect x="117.28" y="344.89" width="16.56" height="16.89" fill="#ff4f4f"/>
<rect x="132.83" y="344.89" width="16.56" height="16.89" fill="#ff3636"/>
<rect x="148.39" y="344.89" width="16.56" height="16.89" fill="#ff1c1c"/>
<rect x="163.94" y="344.89" width="15.56" height="16.89" fill="#ff4545"/>
<rect x="39.5" y="360.78" width="16.56" height="16.89" fill="#ffbdbd"/>
<rect x="55.06" y="360.78" width="16.56" height="16.89" fill="#ff9696"/>
<rect x="70.61" y="360.78" width="16.56" height="16.89" fill="#ff7575"/>
<rect x="86.17" y="360.78" width="16.56" height="16.89" fill="#ff5757"/>
<rect x="101.72" y="360.78" width="16.56" height="16.89" fill="#ff3d3d"/>
<rect x="117.28" y="360.78" width="16.56" height="16.89" fill="#ff2626"/>
<rect x="132.83" y="360.78" width="16.56" height="16.89" fill="#ff1717"/>
<rect x="148.39" y="360.78" width="16.56" height="16.89" fill="#ff2626"/>
<rect x="163.94" y="360.78" width="15.56" height="16.89" fill="#ff6e6e"/>
<rect x="39.5" y="376.67" width="16.56" height="16.89" fill="#ffa6a6"/>
<rect x="55.06" y="376.67" width="16.56" height="16.89" fill="#ff7878"/>
<rect x="70.61" y="376.67" width="16.56" height="16.89" fill="#ff5252"/>
<rect x="86.17" y="376.67" width="16.56" height="16.89" fill="#ff3636"/>
<rect x="101.72" y="376.67" width="16.56" height="16.89" fill="#ff2121"/>
<rect x="117.28" y="376.67" width="16.56" height="16.89" fill="#ff1414"/>
<rect x="132.83" y="376.67" width="16.56" height="16.89" fill="#ff1c1c"/>
<rect x="148.39" y="376.67" width="16.56" height="16.89" fill="#ff4040"/>
<rect x="163.94" y="376.67" width="15.56" height="16.89" fill="#ff9191"/>
<rect x="39.5" y="392.56" width="16.56" height="16.89" fill="#ff8c8c"/>
<rect x="55.06" y="392.56" width="16.56" height="16.89" fill="#ff5959"/>
<rect x="70.61" y="392.56" width="16.56" height="16.89" fill="#ff3838"/>
<rect x="86.17" y="392.56" width="16.56" height="16.89" fill="#ff2121"/>
<rect x="101.72" y="392.56" width="16.56" height="16.89" fill="#ff1212"/>
<rect x="117.28" y="392.56" width="16.56" height="16.89" fill="#ff1717"/>
<rect x="132.83" y="392.56" width="16.56" height="16.89" fill="#ff2e2e"/>
<rect x="148.39" y="392.56" width="16.56" height="16.89" fill="#ff5c5c"/>
<rect x="163.94" y="392.56" width="15.56" height="16.89" fill="#ffabab"/>
<rect x="39.5" y="408.44" width="16.56" height="16.89" fill="#ff7575"/>
<rect x="55.06" y="408.44" width="16.56" height="16.89" fill="#ff4040"/>
<rect x="70.61" y="408.44" width="16.56" height="16.89" fill="#ff2424"/>
<rect x="86.17" y="408.44" width="16.56" height="16.89" fill="#ff1212"/>
<rect x="101.72" y="408.44" width="16.56" height="16.89" fill="#ff1717"/>
<rect x="117.28" y="408.44" width="16.56" height="16.89" fill="#ff2929"/>
<rect x="132.83" y="408.44" width="16.56" height="16.89" fill="#ff4747"/>
<rect x="148.39" y="408.44" width="16.56" height="16.89" fill="#ff7878"/>
<rect x="163.94" y="408.44" width="15.56" height="16.89" fill="#ffc2c2"/>
<rect x="39.5" y="424.33" width="16.56" height="16.89" fill="#ff5e5e"/>
<rect x="55.06" y="424.33" width="16.56" height="16.89" fill="#ff2b2b"/>
<rect x="70.61" y="424.33" width="16.56" height="16.89" fill="#ff1414"/>
<rect x="86.17" y="424.33" width="16.56" height="16.89" fill="#ff1919"/>
<rect x="101.72" y="424.33" width="16.56" height="16.89" fill="#ff2929"/>
<rect x="117.28" y="424.33" width="16.56" height="16.89" fill="#ff4040"/>
<rect x="132.83" y="424.33" width="16.56" height="16.89" fill="#ff6161"/>
<rect x="148.39" y="424.33" width="16.56" height="16.89" fill="#ff9494"/>
<rect x="163.94" y="424.33" width="15.56" height="16.89" fill="#ffd1d1"/>
<rect x="39.5" y="440.22" width="16.56" height="16.89" fill="#ff4545"/>
<rect x="55.06" y="440.22" width="16.56" height="16.89" fill="#ff1919"/>
<rect x="70.61" y="440.22" width="16.56" height="16.89" fill="#ff1f1f"/>
<rect x="86.17" y="440.22" width="16.56" height="16.89" fill="#ff3030"/>
<rect x="101.72" y="440.22" width="16.56" height="16.89" fill="#ff4545"/>
<rect x="117.28" y="440.22" width="16.56" height="16.89" fill="#ff5e5e"/>
<rect x="132.83" y="440.22" width="16.56" height="16.89" fill="#ff8282"/>
<rect x="148.39" y="440.22" width="16.56" height="16.89" fill="#ffabab"/>
<rect x="163.94" y="440.22" width="15.56" height="16.89" fill="#ffdede"/>
<rect x="39.5" y="456.11" width="16.56" height="15.89" fill="#ff2626"/>
<rect x="55.06" y="456.11" width="16.56" height="15.89" fill="#ff3838"/>
<rect x="70.61" y="456.11" width="16.56" height="15.89" fill="#ff4d4d"/>
<rect x="86.17" y="456.11" width="16.56" height="15.89" fill="#ff6161"/>
<rect x="101.72" y="456.11" width="16.56" height="15.89" fill="#ff7575"/>
<rect x="117.28" y="456.11" width="16.56" height="15.89" fill="#ff8c8c"/>
<rect x="132.83" y="456.11" width="16.56" height="15.89" fill="#ffa8a8"/>
<rect x="148.39" y="456.11" width="16.56" height="15.89" fill="#ffc4c4"/>
<rect x="163.94" y="456.11" width="15.56" height="15.89" fill="#ffe6e6"/>
</g>
<g font-family="'Liberation Sans', Arial, Helvetica, sans-serif" font-size="6.7" fill="#000" stroke="#000" stroke-width="0.07" letter-spacing="-0.2" text-anchor="middle">
<text x="47.38" y="338.89">0.08</text>
<text x="62.93" y="338.89">0.13</text>
<text x="78.49" y="338.89">0.19</text>
<text x="94.04" y="338.89">0.24</text>
<text x="109.6" y="338.89">0.31</text>
<text x="125.16" y="338.89">0.4</text>
<text x="140.71" y="338.89">0.5</text>
<text x="156.27" y="338.89">0.64</text>
<text x="171.82" y="338.89">0.83</text>
<text x="47.38" y="354.78">0.17</text>
<text x="62.93" y="354.78">0.27</text>
<text x="78.49" y="354.78">0.37</text>
<text x="94.04" y="354.78">0.48</text>
<text x="109.6" y="354.78">0.58</text>
<text x="125.16" y="354.78">0.69</text>
<text x="140.71" y="354.78">0.79</text>
<text x="156.27" y="354.78">0.89</text>
<text x="171.82" y="354.78">0.73</text>
<text x="47.38" y="370.67">0.26</text>
<text x="62.93" y="370.67">0.41</text>
<text x="78.49" y="370.67">0.54</text>
<text x="94.04" y="370.67">0.66</text>
<text x="109.6" y="370.67">0.76</text>
<text x="125.16" y="370.67">0.85</text>
<text x="140.71" y="370.67">0.91</text>
<text x="156.27" y="370.67">0.85</text>
<text x="171.82" y="370.67">0.57</text>
<text x="47.38" y="386.56">0.35</text>
<text x="62.93" y="386.56">0.53</text>
<text x="78.49" y="386.56">0.68</text>
<text x="94.04" y="386.56">0.79</text>
<text x="109.6" y="386.56">0.87</text>
<text x="125.16" y="386.56">0.92</text>
<text x="140.71" y="386.56">0.89</text>
<text x="156.27" y="386.56">0.75</text>
<text x="171.82" y="386.56">0.43</text>
<text x="47.38" y="402.45">0.45</text>
<text x="62.93" y="402.45">0.65</text>
<text x="78.49" y="402.45">0.78</text>
<text x="94.04" y="402.45">0.87</text>
<text x="109.6" y="402.45">0.93</text>
<text x="125.16" y="402.45">0.91</text>
<text x="140.71" y="402.45">0.82</text>
<text x="156.27" y="402.45">0.64</text>
<text x="171.82" y="402.45">0.33</text>
<text x="47.38" y="418.34">0.54</text>
<text x="62.93" y="418.34">0.75</text>
<text x="78.49" y="418.34">0.86</text>
<text x="94.04" y="418.34">0.93</text>
<text x="109.6" y="418.34">0.91</text>
<text x="125.16" y="418.34">0.84</text>
<text x="140.71" y="418.34">0.72</text>
<text x="156.27" y="418.34">0.53</text>
<text x="171.82" y="418.34">0.24</text>
<text x="47.38" y="434.23">0.63</text>
<text x="62.93" y="434.23">0.83</text>
<text x="78.49" y="434.23">0.92</text>
<text x="94.04" y="434.23">0.9</text>
<text x="109.6" y="434.23">0.84</text>
<text x="125.16" y="434.23">0.75</text>
<text x="140.71" y="434.23">0.62</text>
<text x="156.27" y="434.23">0.42</text>
<text x="171.82" y="434.23">0.18</text>
<text x="47.38" y="450.12">0.73</text>
<text x="62.93" y="450.12">0.9</text>
<text x="78.49" y="450.12">0.88</text>
<text x="94.04" y="450.12">0.81</text>
<text x="109.6" y="450.12">0.73</text>
<text x="125.16" y="450.12">0.63</text>
<text x="140.71" y="450.12">0.49</text>
<text x="156.27" y="450.12">0.33</text>
<text x="171.82" y="450.12">0.13</text>
<text x="47.38" y="466.01">0.85</text>
<text x="62.93" y="466.01">0.78</text>
<text x="78.49" y="466.01">0.7</text>
<text x="94.04" y="466.01">0.62</text>
<text x="109.6" y="466.01">0.54</text>
<text x="125.16" y="466.01">0.45</text>
<text x="140.71" y="466.01">0.34</text>
<text x="156.27" y="466.01">0.23</text>
<text x="171.82" y="466.01">0.1</text>
</g>
<rect x="39.5" y="329" width="140" height="143" fill="none" stroke="#222" stroke-width="0.6"/>
<g stroke="#222" stroke-width="0.6">
<line x1="62.83" y1="472" x2="62.83" y2="474.2"/>
<line x1="37.3" y1="352.83" x2="39.5" y2="352.83"/>
<line x1="93.94" y1="472" x2="93.94" y2="474.2"/>
<line x1="37.3" y1="384.61" x2="39.5" y2="384.61"/>
<line x1="125.06" y1="472" x2="125.06" y2="474.2"/>
<line x1="37.3" y1="416.39" x2="39.5" y2="416.39"/>
<line x1="156.17" y1="472" x2="156.17" y2="474.2"/>
<line x1="37.3" y1="448.17" x2="39.5" y2="448.17"/>
</g>
<g font-family="'Liberation Sans', Arial, Helvetica, sans-serif" font-size="10.3" fill="#111" stroke="#111" stroke-width="0.12">
<text x="62.83" y="483.8" text-anchor="middle">0.2</text>
<text x="93.94" y="483.8" text-anchor="middle">0.4</text>
<text x="125.06" y="483.8" text-anchor="middle">0.6</text>
<text x="156.17" y="483.8" text-anchor="middle">0.8</text>
<text x="35.1" y="356.43" text-anchor="end">0.8</text>
<text x="35.1" y="388.21" text-anchor="end">0.6</text>
<text x="35.1" y="419.99" text-anchor="end">0.4</text>
<text x="35.1" y="451.77" text-anchor="end">0.2</text>
</g>
<text x="109.5" y="325.8" font-family="'DejaVu Sans', 'Liberation Sans', sans-serif" font-style="oblique" font-size="10.1" letter-spacing="0.42" fill="#111" stroke="#111" stroke-width="0.12" text-anchor="middle">pARIs<tspan font-size="7.6" letter-spacing="0.05" dy="1.0">mean</tspan></text>
<text transform="translate(12.3 401.6) rotate(-90)" font-family="'DejaVu Sans', 'Liberation Sans', sans-serif" font-style="oblique" font-size="10" fill="#111" stroke="#111" stroke-width="0.2" text-anchor="middle">P(E = e′)</text>
<rect x="188.2" y="329" width="7.8" height="143" fill="url(#bwr)" stroke="#000" stroke-opacity="0.75" stroke-width="0.6"/>
<g stroke="#222" stroke-width="0.6">
<line x1="196" y1="329" x2="197.9" y2="329"/>
<line x1="196" y1="364.75" x2="197.9" y2="364.75"/>
<line x1="196" y1="400.5" x2="197.9" y2="400.5"/>
<line x1="196" y1="436.25" x2="197.9" y2="436.25"/>
<line x1="196" y1="472" x2="197.9" y2="472"/>
</g>
<g font-family="'Liberation Sans', Arial, Helvetica, sans-serif" font-size="10.3" fill="#111" stroke="#111" stroke-width="0.12">
<text x="199" y="332.6">1.0</text>
<text x="199" y="368.35">0.5</text>
<text x="199" y="404.1">0.0</text>
<text x="199" y="439.85">−0.5</text>
<text x="199" y="475.6">−1.0</text>
</g>
<text transform="translate(229.5 400.5) rotate(-90)" font-family="'Liberation Sans', Arial, Helvetica, sans-serif" font-size="10.7" fill="#111" stroke="#111" stroke-width="0.12" text-anchor="middle">Proportion of calculable cases</text>
</g>
<g>
<g>
<rect x="265.5" y="329" width="16.56" height="16.89" fill="#dedeff"/>
<rect x="281.06" y="329" width="16.56" height="16.89" fill="#e8e8ff"/>
<rect x="296.61" y="329" width="16.56" height="16.89" fill="#ffe6e6"/>
<rect x="312.17" y="329" width="16.56" height="16.89" fill="#ffbaba"/>
<rect x="327.72" y="329" width="16.56" height="16.89" fill="#ff9494"/>
<rect x="343.28" y="329" width="16.56" height="16.89" fill="#ff7575"/>
<rect x="358.83" y="329" width="16.56" height="16.89" fill="#ff5e5e"/>
<rect x="374.39" y="329" width="16.56" height="16.89" fill="#ff4a4a"/>
<rect x="389.94" y="329" width="15.56" height="16.89" fill="#ff3b3b"/>
<rect x="265.5" y="344.89" width="16.56" height="16.89" fill="#ebebff"/>
<rect x="281.06" y="344.89" width="16.56" height="16.89" fill="#ffc2c2"/>
<rect x="296.61" y="344.89" width="16.56" height="16.89" fill="#ff8787"/>
<rect x="312.17" y="344.89" width="16.56" height="16.89" fill="#ff6161"/>
<rect x="327.72" y="344.89" width="16.56" height="16.89" fill="#ff4747"/>
<rect x="343.28" y="344.89" width="16.56" height="16.89" fill="#ff3838"/>
<rect x="358.83" y="344.89" width="16.56" height="16.89" fill="#ff2929"/>
<rect x="374.39" y="344.89" width="16.56" height="16.89" fill="#ff1f1f"/>
<rect x="389.94" y="344.89" width="15.56" height="16.89" fill="#ff3b3b"/>
<rect x="265.5" y="360.78" width="16.56" height="16.89" fill="#ffe0e0"/>
<rect x="281.06" y="360.78" width="16.56" height="16.89" fill="#ff8787"/>
<rect x="296.61" y="360.78" width="16.56" height="16.89" fill="#ff5757"/>
<rect x="312.17" y="360.78" width="16.56" height="16.89" fill="#ff3d3d"/>
<rect x="327.72" y="360.78" width="16.56" height="16.89" fill="#ff2b2b"/>
<rect x="343.28" y="360.78" width="16.56" height="16.89" fill="#ff1f1f"/>
<rect x="358.83" y="360.78" width="16.56" height="16.89" fill="#ff1414"/>
<rect x="374.39" y="360.78" width="16.56" height="16.89" fill="#ff1f1f"/>
<rect x="389.94" y="360.78" width="15.56" height="16.89" fill="#ff4a4a"/>
<rect x="265.5" y="376.67" width="16.56" height="16.89" fill="#ffb2b2"/>
<rect x="281.06" y="376.67" width="16.56" height="16.89" fill="#ff6161"/>
<rect x="296.61" y="376.67" width="16.56" height="16.89" fill="#ff3d3d"/>
<rect x="312.17" y="376.67" width="16.56" height="16.89" fill="#ff2929"/>
<rect x="327.72" y="376.67" width="16.56" height="16.89" fill="#ff1c1c"/>
<rect x="343.28" y="376.67" width="16.56" height="16.89" fill="#ff1212"/>
<rect x="358.83" y="376.67" width="16.56" height="16.89" fill="#ff1717"/>
<rect x="374.39" y="376.67" width="16.56" height="16.89" fill="#ff2929"/>
<rect x="389.94" y="376.67" width="15.56" height="16.89" fill="#ff5959"/>
<rect x="265.5" y="392.56" width="16.56" height="16.89" fill="#ff8f8f"/>
<rect x="281.06" y="392.56" width="16.56" height="16.89" fill="#ff4a4a"/>
<rect x="296.61" y="392.56" width="16.56" height="16.89" fill="#ff2b2b"/>
<rect x="312.17" y="392.56" width="16.56" height="16.89" fill="#ff1c1c"/>
<rect x="327.72" y="392.56" width="16.56" height="16.89" fill="#ff1212"/>
<rect x="343.28" y="392.56" width="16.56" height="16.89" fill="#ff1414"/>
<rect x="358.83" y="392.56" width="16.56" height="16.89" fill="#ff1f1f"/>
<rect x="374.39" y="392.56" width="16.56" height="16.89" fill="#ff3636"/>
<rect x="389.94" y="392.56" width="15.56" height="16.89" fill="#ff6b6b"/>
<rect x="265.5" y="408.44" width="16.56" height="16.89" fill="#ff7575"/>
<rect x="281.06" y="408.44" width="16.56" height="16.89" fill="#ff3b3b"/>
<rect x="296.61" y="408.44" width="16.56" height="16.89" fill="#ff2121"/>
<rect x="312.17" y="408.44" width="16.56" height="16.89" fill="#ff1212"/>
<rect x="327.72" y="408.44" width="16.56" height="16.89" fill="#ff1414"/>
<rect x="343.28" y="408.44" width="16.56" height="16.89" fill="#ff1c1c"/>
<rect x="358.83" y="408.44" width="16.56" height="16.89" fill="#ff2b2b"/>
<rect x="374.39" y="408.44" width="16.56" height="16.89" fill="#ff4545"/>
<rect x="389.94" y="408.44" width="15.56" height="16.89" fill="#ff8787"/>
<rect x="265.5" y="424.33" width="16.56" height="16.89" fill="#ff6161"/>
<rect x="281.06" y="424.33" width="16.56" height="16.89" fill="#ff2b2b"/>
<rect x="296.61" y="424.33" width="16.56" height="16.89" fill="#ff1717"/>
<rect x="312.17" y="424.33" width="16.56" height="16.89" fill="#ff1717"/>
<rect x="327.72" y="424.33" width="16.56" height="16.89" fill="#ff1f1f"/>
<rect x="343.28" y="424.33" width="16.56" height="16.89" fill="#ff2b2b"/>
<rect x="358.83" y="424.33" width="16.56" height="16.89" fill="#ff3d3d"/>
<rect x="374.39" y="424.33" width="16.56" height="16.89" fill="#ff5e5e"/>
<rect x="389.94" y="424.33" width="15.56" height="16.89" fill="#ffabab"/>
<rect x="265.5" y="440.22" width="16.56" height="16.89" fill="#ff5252"/>
<rect x="281.06" y="440.22" width="16.56" height="16.89" fill="#ff2121"/>
<rect x="296.61" y="440.22" width="16.56" height="16.89" fill="#ff2121"/>
<rect x="312.17" y="440.22" width="16.56" height="16.89" fill="#ff2b2b"/>
<rect x="327.72" y="440.22" width="16.56" height="16.89" fill="#ff3636"/>
<rect x="343.28" y="440.22" width="16.56" height="16.89" fill="#ff4545"/>
<rect x="358.83" y="440.22" width="16.56" height="16.89" fill="#ff5e5e"/>
<rect x="374.39" y="440.22" width="16.56" height="16.89" fill="#ff8787"/>
<rect x="389.94" y="440.22" width="15.56" height="16.89" fill="#ffd9d9"/>
<rect x="265.5" y="456.11" width="16.56" height="15.89" fill="#ff4242"/>
<rect x="281.06" y="456.11" width="16.56" height="15.89" fill="#ff4242"/>
<rect x="296.61" y="456.11" width="16.56" height="15.89" fill="#ff4f4f"/>
<rect x="312.17" y="456.11" width="16.56" height="15.89" fill="#ff5959"/>
<rect x="327.72" y="456.11" width="16.56" height="15.89" fill="#ff6969"/>
<rect x="343.28" y="456.11" width="16.56" height="15.89" fill="#ff7d7d"/>
<rect x="358.83" y="456.11" width="16.56" height="15.89" fill="#ff9c9c"/>
<rect x="374.39" y="456.11" width="16.56" height="15.89" fill="#ffcccc"/>
<rect x="389.94" y="456.11" width="15.56" height="15.89" fill="#f7f7ff"/>
</g>
<g font-family="'Liberation Sans', Arial, Helvetica, sans-serif" font-size="6.7" fill="#000" stroke="#000" stroke-width="0.07" letter-spacing="-0.2" text-anchor="middle">
<text x="273.38" y="338.89">-0.13</text>
<text x="288.93" y="338.89">-0.09</text>
<text x="304.49" y="338.89">0.1</text>
<text x="320.04" y="338.89">0.27</text>
<text x="335.6" y="338.89">0.42</text>
<text x="351.16" y="338.89">0.54</text>
<text x="366.71" y="338.89">0.63</text>
<text x="382.27" y="338.89">0.71</text>
<text x="397.82" y="338.89">0.77</text>
<text x="273.38" y="354.78">-0.08</text>
<text x="288.93" y="354.78">0.24</text>
<text x="304.49" y="354.78">0.47</text>
<text x="320.04" y="354.78">0.62</text>
<text x="335.6" y="354.78">0.72</text>
<text x="351.16" y="354.78">0.78</text>
<text x="366.71" y="354.78">0.84</text>
<text x="382.27" y="354.78">0.88</text>
<text x="397.82" y="354.78">0.77</text>
<text x="273.38" y="370.67">0.12</text>
<text x="288.93" y="370.67">0.47</text>
<text x="304.49" y="370.67">0.66</text>
<text x="320.04" y="370.67">0.76</text>
<text x="335.6" y="370.67">0.83</text>
<text x="351.16" y="370.67">0.88</text>
<text x="366.71" y="370.67">0.92</text>
<text x="382.27" y="370.67">0.88</text>
<text x="397.82" y="370.67">0.71</text>
<text x="273.38" y="386.56">0.3</text>
<text x="288.93" y="386.56">0.62</text>
<text x="304.49" y="386.56">0.76</text>
<text x="320.04" y="386.56">0.84</text>
<text x="335.6" y="386.56">0.89</text>
<text x="351.16" y="386.56">0.93</text>
<text x="366.71" y="386.56">0.91</text>
<text x="382.27" y="386.56">0.84</text>
<text x="397.82" y="386.56">0.65</text>
<text x="273.38" y="402.45">0.44</text>
<text x="288.93" y="402.45">0.71</text>
<text x="304.49" y="402.45">0.83</text>
<text x="320.04" y="402.45">0.89</text>
<text x="335.6" y="402.45">0.93</text>
<text x="351.16" y="402.45">0.92</text>
<text x="366.71" y="402.45">0.88</text>
<text x="382.27" y="402.45">0.79</text>
<text x="397.82" y="402.45">0.58</text>
<text x="273.38" y="418.34">0.54</text>
<text x="288.93" y="418.34">0.77</text>
<text x="304.49" y="418.34">0.87</text>
<text x="320.04" y="418.34">0.93</text>
<text x="335.6" y="418.34">0.92</text>
<text x="351.16" y="418.34">0.89</text>
<text x="366.71" y="418.34">0.83</text>
<text x="382.27" y="418.34">0.73</text>
<text x="397.82" y="418.34">0.47</text>
<text x="273.38" y="434.23">0.62</text>
<text x="288.93" y="434.23">0.83</text>
<text x="304.49" y="434.23">0.91</text>
<text x="320.04" y="434.23">0.91</text>
<text x="335.6" y="434.23">0.88</text>
<text x="351.16" y="434.23">0.83</text>
<text x="366.71" y="434.23">0.76</text>
<text x="382.27" y="434.23">0.63</text>
<text x="397.82" y="434.23">0.33</text>
<text x="273.38" y="450.12">0.68</text>
<text x="288.93" y="450.12">0.87</text>
<text x="304.49" y="450.12">0.87</text>
<text x="320.04" y="450.12">0.83</text>
<text x="335.6" y="450.12">0.79</text>
<text x="351.16" y="450.12">0.73</text>
<text x="366.71" y="450.12">0.63</text>
<text x="382.27" y="450.12">0.47</text>
<text x="397.82" y="450.12">0.15</text>
<text x="273.38" y="466.01">0.74</text>
<text x="288.93" y="466.01">0.74</text>
<text x="304.49" y="466.01">0.69</text>
<text x="320.04" y="466.01">0.65</text>
<text x="335.6" y="466.01">0.59</text>
<text x="351.16" y="466.01">0.51</text>
<text x="366.71" y="466.01">0.39</text>
<text x="382.27" y="466.01">0.2</text>
<text x="397.82" y="466.01">-0.03</text>
</g>
<rect x="265.5" y="329" width="140" height="143" fill="none" stroke="#222" stroke-width="0.6"/>
<g stroke="#222" stroke-width="0.6">
<line x1="288.83" y1="472" x2="288.83" y2="474.2"/>
<line x1="263.3" y1="352.83" x2="265.5" y2="352.83"/>
<line x1="319.94" y1="472" x2="319.94" y2="474.2"/>
<line x1="263.3" y1="384.61" x2="265.5" y2="384.61"/>
<line x1="351.06" y1="472" x2="351.06" y2="474.2"/>
<line x1="263.3" y1="416.39" x2="265.5" y2="416.39"/>
<line x1="382.17" y1="472" x2="382.17" y2="474.2"/>
<line x1="263.3" y1="448.17" x2="265.5" y2="448.17"/>
</g>
<g font-family="'Liberation Sans', Arial, Helvetica, sans-serif" font-size="10.3" fill="#111" stroke="#111" stroke-width="0.12">
<text x="288.83" y="483.8" text-anchor="middle">0.2</text>
<text x="319.94" y="483.8" text-anchor="middle">0.4</text>
<text x="351.06" y="483.8" text-anchor="middle">0.6</text>
<text x="382.17" y="483.8" text-anchor="middle">0.8</text>
<text x="261.1" y="356.43" text-anchor="end">0.8</text>
<text x="261.1" y="388.21" text-anchor="end">0.6</text>
<text x="261.1" y="419.99" text-anchor="end">0.4</text>
<text x="261.1" y="451.77" text-anchor="end">0.2</text>
</g>
<text x="335.5" y="325.8" font-family="'DejaVu Sans', 'Liberation Sans', sans-serif" font-style="oblique" font-size="10.1" letter-spacing="0.42" fill="#111" stroke="#111" stroke-width="0.12" text-anchor="middle">MI</text>
<text x="354.5" y="500.5" font-family="'DejaVu Sans', 'Liberation Sans', sans-serif" font-style="oblique" font-size="10" fill="#111" stroke="#111" stroke-width="0.2" text-anchor="middle">P(C = c′)</text>
<rect x="414.2" y="329" width="7.8" height="143" fill="url(#bwr)" stroke="#000" stroke-opacity="0.75" stroke-width="0.6"/>
<g stroke="#222" stroke-width="0.6">
<line x1="422" y1="329" x2="423.9" y2="329"/>
<line x1="422" y1="364.75" x2="423.9" y2="364.75"/>
<line x1="422" y1="400.5" x2="423.9" y2="400.5"/>
<line x1="422" y1="436.25" x2="423.9" y2="436.25"/>
<line x1="422" y1="472" x2="423.9" y2="472"/>
</g>
<g font-family="'Liberation Sans', Arial, Helvetica, sans-serif" font-size="10.3" fill="#111" stroke="#111" stroke-width="0.12">
<text x="425" y="332.6">1.0</text>
<text x="425" y="368.35">0.5</text>
<text x="425" y="404.1">0.0</text>
<text x="425" y="439.85">−0.5</text>
<text x="425" y="475.6">−1.0</text>
</g>
<text transform="translate(455.5 400.5) rotate(-90)" font-family="'Liberation Sans', Arial, Helvetica, sans-serif" font-size="10.7" fill="#111" stroke="#111" stroke-width="0.12" text-anchor="middle">Proportion of calculable cases</text>
</g>
<g>
<g>
<rect x="491.6" y="329" width="16.56" height="16.89" fill="#ffc9c9"/>
<rect x="507.16" y="329" width="16.56" height="16.89" fill="#ffc7c7"/>
<rect x="522.71" y="329" width="16.56" height="16.89" fill="#ffe8e8"/>
<rect x="538.27" y="329" width="16.56" height="16.89" fill="#f7f7ff"/>
<rect x="553.82" y="329" width="16.56" height="16.89" fill="#e3e3ff"/>
<rect x="569.38" y="329" width="16.56" height="16.89" fill="#dbdbff"/>
<rect x="584.93" y="329" width="16.56" height="16.89" fill="#dedeff"/>
<rect x="600.49" y="329" width="16.56" height="16.89" fill="#ededff"/>
<rect x="616.04" y="329" width="15.56" height="16.89" fill="#fff0f0"/>
<rect x="491.6" y="344.89" width="16.56" height="16.89" fill="#ffc2c2"/>
<rect x="507.16" y="344.89" width="16.56" height="16.89" fill="#fff5f5"/>
<rect x="522.71" y="344.89" width="16.56" height="16.89" fill="#e6e6ff"/>
<rect x="538.27" y="344.89" width="16.56" height="16.89" fill="#dbdbff"/>
<rect x="553.82" y="344.89" width="16.56" height="16.89" fill="#dedeff"/>
<rect x="569.38" y="344.89" width="16.56" height="16.89" fill="#e8e8ff"/>
<rect x="584.93" y="344.89" width="16.56" height="16.89" fill="#f5f5ff"/>
<rect x="600.49" y="344.89" width="16.56" height="16.89" fill="#fffcfc"/>
<rect x="616.04" y="344.89" width="15.56" height="16.89" fill="#f5f5ff"/>
<rect x="491.6" y="360.78" width="16.56" height="16.89" fill="#ffdbdb"/>
<rect x="507.16" y="360.78" width="16.56" height="16.89" fill="#ededff"/>
<rect x="522.71" y="360.78" width="16.56" height="16.89" fill="#e0e0ff"/>
<rect x="538.27" y="360.78" width="16.56" height="16.89" fill="#e6e6ff"/>
<rect x="553.82" y="360.78" width="16.56" height="16.89" fill="#ededff"/>
<rect x="569.38" y="360.78" width="16.56" height="16.89" fill="#f7f7ff"/>
<rect x="584.93" y="360.78" width="16.56" height="16.89" fill="#ffffff"/>
<rect x="600.49" y="360.78" width="16.56" height="16.89" fill="#f7f7ff"/>
<rect x="616.04" y="360.78" width="15.56" height="16.89" fill="#dbdbff"/>
<rect x="491.6" y="376.67" width="16.56" height="16.89" fill="#fff2f2"/>
<rect x="507.16" y="376.67" width="16.56" height="16.89" fill="#ebebff"/>
<rect x="522.71" y="376.67" width="16.56" height="16.89" fill="#ebebff"/>
<rect x="538.27" y="376.67" width="16.56" height="16.89" fill="#f2f2ff"/>
<rect x="553.82" y="376.67" width="16.56" height="16.89" fill="#fafaff"/>
<rect x="569.38" y="376.67" width="16.56" height="16.89" fill="#fcfcff"/>
<rect x="584.93" y="376.67" width="16.56" height="16.89" fill="#fafaff"/>
<rect x="600.49" y="376.67" width="16.56" height="16.89" fill="#e8e8ff"/>
<rect x="616.04" y="376.67" width="15.56" height="16.89" fill="#c7c7ff"/>
<rect x="491.6" y="392.56" width="16.56" height="16.89" fill="#fffcfc"/>
<rect x="507.16" y="392.56" width="16.56" height="16.89" fill="#f0f0ff"/>
<rect x="522.71" y="392.56" width="16.56" height="16.89" fill="#f5f5ff"/>
<rect x="538.27" y="392.56" width="16.56" height="16.89" fill="#fafaff"/>
<rect x="553.82" y="392.56" width="16.56" height="16.89" fill="#ffffff"/>
<rect x="569.38" y="392.56" width="16.56" height="16.89" fill="#fafaff"/>
<rect x="584.93" y="392.56" width="16.56" height="16.89" fill="#f0f0ff"/>
<rect x="600.49" y="392.56" width="16.56" height="16.89" fill="#d9d9ff"/>
<rect x="616.04" y="392.56" width="15.56" height="16.89" fill="#bfbfff"/>
<rect x="491.6" y="408.44" width="16.56" height="16.89" fill="#ffffff"/>
<rect x="507.16" y="408.44" width="16.56" height="16.89" fill="#f7f7ff"/>
<rect x="522.71" y="408.44" width="16.56" height="16.89" fill="#fcfcff"/>
<rect x="538.27" y="408.44" width="16.56" height="16.89" fill="#ffffff"/>
<rect x="553.82" y="408.44" width="16.56" height="16.89" fill="#fcfcff"/>
<rect x="569.38" y="408.44" width="16.56" height="16.89" fill="#f2f2ff"/>
<rect x="584.93" y="408.44" width="16.56" height="16.89" fill="#e3e3ff"/>
<rect x="600.49" y="408.44" width="16.56" height="16.89" fill="#ccccff"/>
<rect x="616.04" y="408.44" width="15.56" height="16.89" fill="#c4c4ff"/>
<rect x="491.6" y="424.33" width="16.56" height="16.89" fill="#fffcfc"/>
<rect x="507.16" y="424.33" width="16.56" height="16.89" fill="#ffffff"/>
<rect x="522.71" y="424.33" width="16.56" height="16.89" fill="#fffcfc"/>
<rect x="538.27" y="424.33" width="16.56" height="16.89" fill="#fcfcff"/>
<rect x="553.82" y="424.33" width="16.56" height="16.89" fill="#f5f5ff"/>
<rect x="569.38" y="424.33" width="16.56" height="16.89" fill="#ebebff"/>
<rect x="584.93" y="424.33" width="16.56" height="16.89" fill="#dbdbff"/>
<rect x="600.49" y="424.33" width="16.56" height="16.89" fill="#c9c9ff"/>
<rect x="616.04" y="424.33" width="15.56" height="16.89" fill="#d9d9ff"/>
<rect x="491.6" y="440.22" width="16.56" height="16.89" fill="#fff2f2"/>
<rect x="507.16" y="440.22" width="16.56" height="16.89" fill="#fff7f7"/>
<rect x="522.71" y="440.22" width="16.56" height="16.89" fill="#fffcfc"/>
<rect x="538.27" y="440.22" width="16.56" height="16.89" fill="#fafaff"/>
<rect x="553.82" y="440.22" width="16.56" height="16.89" fill="#f0f0ff"/>
<rect x="569.38" y="440.22" width="16.56" height="16.89" fill="#e6e6ff"/>
<rect x="584.93" y="440.22" width="16.56" height="16.89" fill="#dbdbff"/>
<rect x="600.49" y="440.22" width="16.56" height="16.89" fill="#dbdbff"/>
<rect x="616.04" y="440.22" width="15.56" height="16.89" fill="#fafaff"/>
<rect x="491.6" y="456.11" width="16.56" height="15.89" fill="#ffe3e3"/>
<rect x="507.16" y="456.11" width="16.56" height="15.89" fill="#fff2f2"/>
<rect x="522.71" y="456.11" width="16.56" height="15.89" fill="#fffcfc"/>
<rect x="538.27" y="456.11" width="16.56" height="15.89" fill="#fafaff"/>
<rect x="553.82" y="456.11" width="16.56" height="15.89" fill="#f2f2ff"/>
<rect x="569.38" y="456.11" width="16.56" height="15.89" fill="#f0f0ff"/>
<rect x="584.93" y="456.11" width="16.56" height="15.89" fill="#f5f5ff"/>
<rect x="600.49" y="456.11" width="16.56" height="15.89" fill="#fffafa"/>
<rect x="616.04" y="456.11" width="15.56" height="15.89" fill="#ffe0e0"/>
</g>
<g font-family="'Liberation Sans', Arial, Helvetica, sans-serif" font-size="6.7" fill="#000" stroke="#000" stroke-width="0.07" letter-spacing="-0.2" text-anchor="middle">
<text x="499.48" y="338.89">0.21</text>
<text x="515.03" y="338.89">0.22</text>
<text x="530.59" y="338.89">0.09</text>
<text x="546.14" y="338.89">-0.03</text>
<text x="561.7" y="338.89">-0.11</text>
<text x="577.26" y="338.89">-0.14</text>
<text x="592.81" y="338.89">-0.13</text>
<text x="608.37" y="338.89">-0.07</text>
<text x="623.92" y="338.89">0.06</text>
<text x="499.48" y="354.78">0.24</text>
<text x="515.03" y="354.78">0.04</text>
<text x="530.59" y="354.78">-0.1</text>
<text x="546.14" y="354.78">-0.14</text>
<text x="561.7" y="354.78">-0.13</text>
<text x="577.26" y="354.78">-0.09</text>
<text x="592.81" y="354.78">-0.04</text>
<text x="608.37" y="354.78">0.01</text>
<text x="623.92" y="354.78">-0.04</text>
<text x="499.48" y="370.67">0.14</text>
<text x="515.03" y="370.67">-0.07</text>
<text x="530.59" y="370.67">-0.12</text>
<text x="546.14" y="370.67">-0.1</text>
<text x="561.7" y="370.67">-0.07</text>
<text x="577.26" y="370.67">-0.03</text>
<text x="592.81" y="370.67">-0.0</text>
<text x="608.37" y="370.67">-0.03</text>
<text x="623.92" y="370.67">-0.14</text>
<text x="499.48" y="386.56">0.05</text>
<text x="515.03" y="386.56">-0.08</text>
<text x="530.59" y="386.56">-0.08</text>
<text x="546.14" y="386.56">-0.05</text>
<text x="561.7" y="386.56">-0.02</text>
<text x="577.26" y="386.56">-0.01</text>
<text x="592.81" y="386.56">-0.02</text>
<text x="608.37" y="386.56">-0.09</text>
<text x="623.92" y="386.56">-0.22</text>
<text x="499.48" y="402.45">0.01</text>
<text x="515.03" y="402.45">-0.06</text>
<text x="530.59" y="402.45">-0.04</text>
<text x="546.14" y="402.45">-0.02</text>
<text x="561.7" y="402.45">-0.0</text>
<text x="577.26" y="402.45">-0.02</text>
<text x="592.81" y="402.45">-0.06</text>
<text x="608.37" y="402.45">-0.15</text>
<text x="623.92" y="402.45">-0.25</text>
<text x="499.48" y="418.34">-0.0</text>
<text x="515.03" y="418.34">-0.03</text>
<text x="530.59" y="418.34">-0.01</text>
<text x="546.14" y="418.34">0.0</text>
<text x="561.7" y="418.34">-0.01</text>
<text x="577.26" y="418.34">-0.05</text>
<text x="592.81" y="418.34">-0.11</text>
<text x="608.37" y="418.34">-0.2</text>
<text x="623.92" y="418.34">-0.23</text>
<text x="499.48" y="434.23">0.01</text>
<text x="515.03" y="434.23">0.0</text>
<text x="530.59" y="434.23">0.01</text>
<text x="546.14" y="434.23">-0.01</text>
<text x="561.7" y="434.23">-0.04</text>
<text x="577.26" y="434.23">-0.08</text>
<text x="592.81" y="434.23">-0.14</text>
<text x="608.37" y="434.23">-0.21</text>
<text x="623.92" y="434.23">-0.15</text>
<text x="499.48" y="450.12">0.05</text>
<text x="515.03" y="450.12">0.03</text>
<text x="530.59" y="450.12">0.01</text>
<text x="546.14" y="450.12">-0.02</text>
<text x="561.7" y="450.12">-0.06</text>
<text x="577.26" y="450.12">-0.1</text>
<text x="592.81" y="450.12">-0.14</text>
<text x="608.37" y="450.12">-0.14</text>
<text x="623.92" y="450.12">-0.02</text>
<text x="499.48" y="466.01">0.11</text>
<text x="515.03" y="466.01">0.05</text>
<text x="530.59" y="466.01">0.01</text>
<text x="546.14" y="466.01">-0.02</text>
<text x="561.7" y="466.01">-0.05</text>
<text x="577.26" y="466.01">-0.06</text>
<text x="592.81" y="466.01">-0.04</text>
<text x="608.37" y="466.01">0.02</text>
<text x="623.92" y="466.01">0.12</text>
</g>
<rect x="491.6" y="329" width="140" height="143" fill="none" stroke="#222" stroke-width="0.6"/>
<g stroke="#222" stroke-width="0.6">
<line x1="514.93" y1="472" x2="514.93" y2="474.2"/>
<line x1="489.4" y1="352.83" x2="491.6" y2="352.83"/>
<line x1="546.04" y1="472" x2="546.04" y2="474.2"/>
<line x1="489.4" y1="384.61" x2="491.6" y2="384.61"/>
<line x1="577.16" y1="472" x2="577.16" y2="474.2"/>
<line x1="489.4" y1="416.39" x2="491.6" y2="416.39"/>
<line x1="608.27" y1="472" x2="608.27" y2="474.2"/>
<line x1="489.4" y1="448.17" x2="491.6" y2="448.17"/>
</g>
<g font-family="'Liberation Sans', Arial, Helvetica, sans-serif" font-size="10.3" fill="#111" stroke="#111" stroke-width="0.12">
<text x="514.93" y="483.8" text-anchor="middle">0.2</text>
<text x="546.04" y="483.8" text-anchor="middle">0.4</text>
<text x="577.16" y="483.8" text-anchor="middle">0.6</text>
<text x="608.27" y="483.8" text-anchor="middle">0.8</text>
<text x="487.2" y="356.43" text-anchor="end">0.8</text>
<text x="487.2" y="388.21" text-anchor="end">0.6</text>
<text x="487.2" y="419.99" text-anchor="end">0.4</text>
<text x="487.2" y="451.77" text-anchor="end">0.2</text>
</g>
<text x="561.6" y="325.8" font-family="'DejaVu Sans', 'Liberation Sans', sans-serif" font-style="oblique" font-size="10.1" letter-spacing="0.42" fill="#111" stroke="#111" stroke-width="0.12" text-anchor="middle">pARIs<tspan font-size="7.6" letter-spacing="0.05" dy="1.0">mean</tspan><tspan dy="-1.0" letter-spacing="0" word-spacing="-0.9"> − </tspan><tspan>MI</tspan></text>
<rect x="640.3" y="329" width="7.8" height="143" fill="url(#bwr)" stroke="#000" stroke-opacity="0.75" stroke-width="0.6"/>
<g stroke="#222" stroke-width="0.6">
<line x1="648.1" y1="329" x2="650" y2="329"/>
<line x1="648.1" y1="364.75" x2="650" y2="364.75"/>
<line x1="648.1" y1="400.5" x2="650" y2="400.5"/>
<line x1="648.1" y1="436.25" x2="650" y2="436.25"/>
<line x1="648.1" y1="472" x2="650" y2="472"/>
</g>
<g font-family="'Liberation Sans', Arial, Helvetica, sans-serif" font-size="10.3" fill="#111" stroke="#111" stroke-width="0.12">
<text x="651.1" y="332.6">1.0</text>
<text x="651.1" y="368.35">0.5</text>
<text x="651.1" y="404.1">0.0</text>
<text x="651.1" y="439.85">−0.5</text>
<text x="651.1" y="475.6">−1.0</text>
</g>
<text transform="translate(681.6 400.5) rotate(-90)" font-family="'Liberation Sans', Arial, Helvetica, sans-serif" font-size="10.7" fill="#111" stroke="#111" stroke-width="0.12" text-anchor="middle">Difference in proportions</text>
</g>
<g>
<g>
<rect x="36.8" y="587.5" width="16.58" height="16.92" fill="#ffbfbf"/>
<rect x="52.38" y="587.5" width="16.58" height="16.92" fill="#ff9c9c"/>
<rect x="67.96" y="587.5" width="16.58" height="16.92" fill="#ff7a7a"/>
<rect x="83.53" y="587.5" width="16.58" height="16.92" fill="#ff5e5e"/>
<rect x="99.11" y="587.5" width="16.58" height="16.92" fill="#ff4545"/>
<rect x="114.69" y="587.5" width="16.58" height="16.92" fill="#ff3030"/>
<rect x="130.27" y="587.5" width="16.58" height="16.92" fill="#ff1f1f"/>
<rect x="145.84" y="587.5" width="16.58" height="16.92" fill="#ff1212"/>
<rect x="161.42" y="587.5" width="15.58" height="16.92" fill="#ff0808"/>
<rect x="36.8" y="603.42" width="16.58" height="16.92" fill="#ff8585"/>
<rect x="52.38" y="603.42" width="16.58" height="16.92" fill="#ff5454"/>
<rect x="67.96" y="603.42" width="16.58" height="16.92" fill="#ff3636"/>
<rect x="83.53" y="603.42" width="16.58" height="16.92" fill="#ff2424"/>
<rect x="99.11" y="603.42" width="16.58" height="16.92" fill="#ff1717"/>
<rect x="114.69" y="603.42" width="16.58" height="16.92" fill="#ff0f0f"/>
<rect x="130.27" y="603.42" width="16.58" height="16.92" fill="#ff0a0a"/>
<rect x="145.84" y="603.42" width="16.58" height="16.92" fill="#ff0505"/>
<rect x="161.42" y="603.42" width="15.58" height="16.92" fill="#ff1f1f"/>
<rect x="36.8" y="619.34" width="16.58" height="16.92" fill="#ff5959"/>
<rect x="52.38" y="619.34" width="16.58" height="16.92" fill="#ff2e2e"/>
<rect x="67.96" y="619.34" width="16.58" height="16.92" fill="#ff1c1c"/>
<rect x="83.53" y="619.34" width="16.58" height="16.92" fill="#ff1212"/>
<rect x="99.11" y="619.34" width="16.58" height="16.92" fill="#ff0a0a"/>
<rect x="114.69" y="619.34" width="16.58" height="16.92" fill="#ff0808"/>
<rect x="130.27" y="619.34" width="16.58" height="16.92" fill="#ff0505"/>
<rect x="145.84" y="619.34" width="16.58" height="16.92" fill="#ff0d0d"/>
<rect x="161.42" y="619.34" width="15.58" height="16.92" fill="#ff4a4a"/>
<rect x="36.8" y="635.27" width="16.58" height="16.92" fill="#ff3b3b"/>
<rect x="52.38" y="635.27" width="16.58" height="16.92" fill="#ff1c1c"/>
<rect x="67.96" y="635.27" width="16.58" height="16.92" fill="#ff0f0f"/>
<rect x="83.53" y="635.27" width="16.58" height="16.92" fill="#ff0a0a"/>
<rect x="99.11" y="635.27" width="16.58" height="16.92" fill="#ff0505"/>
<rect x="114.69" y="635.27" width="16.58" height="16.92" fill="#ff0505"/>
<rect x="130.27" y="635.27" width="16.58" height="16.92" fill="#ff0a0a"/>
<rect x="145.84" y="635.27" width="16.58" height="16.92" fill="#ff2121"/>
<rect x="161.42" y="635.27" width="15.58" height="16.92" fill="#ff7070"/>
<rect x="36.8" y="651.19" width="16.58" height="16.92" fill="#ff2929"/>
<rect x="52.38" y="651.19" width="16.58" height="16.92" fill="#ff1212"/>
<rect x="67.96" y="651.19" width="16.58" height="16.92" fill="#ff0a0a"/>
<rect x="83.53" y="651.19" width="16.58" height="16.92" fill="#ff0505"/>
<rect x="99.11" y="651.19" width="16.58" height="16.92" fill="#ff0505"/>
<rect x="114.69" y="651.19" width="16.58" height="16.92" fill="#ff0808"/>
<rect x="130.27" y="651.19" width="16.58" height="16.92" fill="#ff1414"/>
<rect x="145.84" y="651.19" width="16.58" height="16.92" fill="#ff3b3b"/>
<rect x="161.42" y="651.19" width="15.58" height="16.92" fill="#ff8f8f"/>
<rect x="36.8" y="667.11" width="16.58" height="16.92" fill="#ff1c1c"/>
<rect x="52.38" y="667.11" width="16.58" height="16.92" fill="#ff0a0a"/>
<rect x="67.96" y="667.11" width="16.58" height="16.92" fill="#ff0505"/>
<rect x="83.53" y="667.11" width="16.58" height="16.92" fill="#ff0303"/>
<rect x="99.11" y="667.11" width="16.58" height="16.92" fill="#ff0808"/>
<rect x="114.69" y="667.11" width="16.58" height="16.92" fill="#ff1212"/>
<rect x="130.27" y="667.11" width="16.58" height="16.92" fill="#ff2626"/>
<rect x="145.84" y="667.11" width="16.58" height="16.92" fill="#ff5252"/>
<rect x="161.42" y="667.11" width="15.58" height="16.92" fill="#ffa6a6"/>
<rect x="36.8" y="683.03" width="16.58" height="16.92" fill="#ff1212"/>
<rect x="52.38" y="683.03" width="16.58" height="16.92" fill="#ff0808"/>
<rect x="67.96" y="683.03" width="16.58" height="16.92" fill="#ff0303"/>
<rect x="83.53" y="683.03" width="16.58" height="16.92" fill="#ff0808"/>
<rect x="99.11" y="683.03" width="16.58" height="16.92" fill="#ff0f0f"/>
<rect x="114.69" y="683.03" width="16.58" height="16.92" fill="#ff1f1f"/>
<rect x="130.27" y="683.03" width="16.58" height="16.92" fill="#ff3838"/>
<rect x="145.84" y="683.03" width="16.58" height="16.92" fill="#ff6363"/>
<rect x="161.42" y="683.03" width="15.58" height="16.92" fill="#ffb5b5"/>
<rect x="36.8" y="698.96" width="16.58" height="16.92" fill="#ff0a0a"/>
<rect x="52.38" y="698.96" width="16.58" height="16.92" fill="#ff0303"/>
<rect x="67.96" y="698.96" width="16.58" height="16.92" fill="#ff0808"/>
<rect x="83.53" y="698.96" width="16.58" height="16.92" fill="#ff1212"/>
<rect x="99.11" y="698.96" width="16.58" height="16.92" fill="#ff1c1c"/>
<rect x="114.69" y="698.96" width="16.58" height="16.92" fill="#ff2b2b"/>
<rect x="130.27" y="698.96" width="16.58" height="16.92" fill="#ff4545"/>
<rect x="145.84" y="698.96" width="16.58" height="16.92" fill="#ff7070"/>
<rect x="161.42" y="698.96" width="15.58" height="16.92" fill="#ffbfbf"/>
<rect x="36.8" y="714.88" width="16.58" height="15.92" fill="#ff0505"/>
<rect x="52.38" y="714.88" width="16.58" height="15.92" fill="#ff0d0d"/>
<rect x="67.96" y="714.88" width="16.58" height="15.92" fill="#ff1717"/>
<rect x="83.53" y="714.88" width="16.58" height="15.92" fill="#ff2121"/>
<rect x="99.11" y="714.88" width="16.58" height="15.92" fill="#ff2b2b"/>
<rect x="114.69" y="714.88" width="16.58" height="15.92" fill="#ff3b3b"/>
<rect x="130.27" y="714.88" width="16.58" height="15.92" fill="#ff5252"/>
<rect x="145.84" y="714.88" width="16.58" height="15.92" fill="#ff7a7a"/>
<rect x="161.42" y="714.88" width="15.58" height="15.92" fill="#ffc2c2"/>
</g>
<g font-family="'Liberation Sans', Arial, Helvetica, sans-serif" font-size="6.7" fill="#000" stroke="#000" stroke-width="0.07" letter-spacing="-0.2" text-anchor="middle">
<text x="44.69" y="597.41">0.25</text>
<text x="60.27" y="597.41">0.39</text>
<text x="75.84" y="597.41">0.52</text>
<text x="91.42" y="597.41">0.63</text>
<text x="107" y="597.41">0.73</text>
<text x="122.58" y="597.41">0.81</text>
<text x="138.16" y="597.41">0.88</text>
<text x="153.73" y="597.41">0.93</text>
<text x="169.31" y="597.41">0.97</text>
<text x="44.69" y="613.33">0.48</text>
<text x="60.27" y="613.33">0.67</text>
<text x="75.84" y="613.33">0.79</text>
<text x="91.42" y="613.33">0.86</text>
<text x="107" y="613.33">0.91</text>
<text x="122.58" y="613.33">0.94</text>
<text x="138.16" y="613.33">0.96</text>
<text x="153.73" y="613.33">0.98</text>
<text x="169.31" y="613.33">0.88</text>
<text x="44.69" y="629.26">0.65</text>
<text x="60.27" y="629.26">0.82</text>
<text x="75.84" y="629.26">0.89</text>
<text x="91.42" y="629.26">0.93</text>
<text x="107" y="629.26">0.96</text>
<text x="122.58" y="629.26">0.97</text>
<text x="138.16" y="629.26">0.98</text>
<text x="153.73" y="629.26">0.95</text>
<text x="169.31" y="629.26">0.71</text>
<text x="44.69" y="645.18">0.77</text>
<text x="60.27" y="645.18">0.89</text>
<text x="75.84" y="645.18">0.94</text>
<text x="91.42" y="645.18">0.96</text>
<text x="107" y="645.18">0.98</text>
<text x="122.58" y="645.18">0.98</text>
<text x="138.16" y="645.18">0.96</text>
<text x="153.73" y="645.18">0.87</text>
<text x="169.31" y="645.18">0.56</text>
<text x="44.69" y="661.1">0.84</text>
<text x="60.27" y="661.1">0.93</text>
<text x="75.84" y="661.1">0.96</text>
<text x="91.42" y="661.1">0.98</text>
<text x="107" y="661.1">0.98</text>
<text x="122.58" y="661.1">0.97</text>
<text x="138.16" y="661.1">0.92</text>
<text x="153.73" y="661.1">0.77</text>
<text x="169.31" y="661.1">0.44</text>
<text x="44.69" y="677.02">0.89</text>
<text x="60.27" y="677.02">0.96</text>
<text x="75.84" y="677.02">0.98</text>
<text x="91.42" y="677.02">0.99</text>
<text x="107" y="677.02">0.97</text>
<text x="122.58" y="677.02">0.93</text>
<text x="138.16" y="677.02">0.85</text>
<text x="153.73" y="677.02">0.68</text>
<text x="169.31" y="677.02">0.35</text>
<text x="44.69" y="692.94">0.93</text>
<text x="60.27" y="692.94">0.97</text>
<text x="75.84" y="692.94">0.99</text>
<text x="91.42" y="692.94">0.97</text>
<text x="107" y="692.94">0.94</text>
<text x="122.58" y="692.94">0.88</text>
<text x="138.16" y="692.94">0.78</text>
<text x="153.73" y="692.94">0.61</text>
<text x="169.31" y="692.94">0.29</text>
<text x="44.69" y="708.87">0.96</text>
<text x="60.27" y="708.87">0.99</text>
<text x="75.84" y="708.87">0.97</text>
<text x="91.42" y="708.87">0.93</text>
<text x="107" y="708.87">0.89</text>
<text x="122.58" y="708.87">0.83</text>
<text x="138.16" y="708.87">0.73</text>
<text x="153.73" y="708.87">0.56</text>
<text x="169.31" y="708.87">0.25</text>
<text x="44.69" y="724.79">0.98</text>
<text x="60.27" y="724.79">0.95</text>
<text x="75.84" y="724.79">0.91</text>
<text x="91.42" y="724.79">0.87</text>
<text x="107" y="724.79">0.83</text>
<text x="122.58" y="724.79">0.77</text>
<text x="138.16" y="724.79">0.68</text>
<text x="153.73" y="724.79">0.52</text>
<text x="169.31" y="724.79">0.24</text>
</g>
<rect x="36.8" y="587.5" width="140.2" height="143.3" fill="none" stroke="#222" stroke-width="0.6"/>
<g stroke="#222" stroke-width="0.6">
<line x1="60.17" y1="730.8" x2="60.17" y2="733"/>
<line x1="34.6" y1="611.38" x2="36.8" y2="611.38"/>
<line x1="91.32" y1="730.8" x2="91.32" y2="733"/>
<line x1="34.6" y1="643.23" x2="36.8" y2="643.23"/>
<line x1="122.48" y1="730.8" x2="122.48" y2="733"/>
<line x1="34.6" y1="675.07" x2="36.8" y2="675.07"/>
<line x1="153.63" y1="730.8" x2="153.63" y2="733"/>
<line x1="34.6" y1="706.92" x2="36.8" y2="706.92"/>
</g>
<g font-family="'Liberation Sans', Arial, Helvetica, sans-serif" font-size="10.3" fill="#111" stroke="#111" stroke-width="0.12">
<text x="60.17" y="742.1" text-anchor="middle">0.2</text>
<text x="91.32" y="742.1" text-anchor="middle">0.4</text>
<text x="122.48" y="742.1" text-anchor="middle">0.6</text>
<text x="153.63" y="742.1" text-anchor="middle">0.8</text>
<text x="32.4" y="614.98" text-anchor="end">0.8</text>
<text x="32.4" y="646.83" text-anchor="end">0.6</text>
<text x="32.4" y="678.67" text-anchor="end">0.4</text>
<text x="32.4" y="710.52" text-anchor="end">0.2</text>
</g>
<text x="106.9" y="584.3" font-family="'DejaVu Sans', 'Liberation Sans', sans-serif" font-style="oblique" font-size="10.1" letter-spacing="0.42" fill="#111" stroke="#111" stroke-width="0.12" text-anchor="middle">pARIs<tspan font-size="7.6" letter-spacing="0.05" dy="1.0">mean</tspan></text>
<text transform="translate(9.6 660.65) rotate(-90)" font-family="'DejaVu Sans', 'Liberation Sans', sans-serif" font-style="oblique" font-size="10" fill="#111" stroke="#111" stroke-width="0.2" text-anchor="middle">P(E = e′)</text>
<rect x="185.7" y="587.5" width="7.8" height="143.3" fill="url(#bwr)" stroke="#000" stroke-opacity="0.75" stroke-width="0.6"/>
<g stroke="#222" stroke-width="0.6">
<line x1="193.5" y1="587.5" x2="195.4" y2="587.5"/>
<line x1="193.5" y1="623.33" x2="195.4" y2="623.33"/>
<line x1="193.5" y1="659.15" x2="195.4" y2="659.15"/>
<line x1="193.5" y1="694.98" x2="195.4" y2="694.98"/>
<line x1="193.5" y1="730.8" x2="195.4" y2="730.8"/>
</g>
<g font-family="'Liberation Sans', Arial, Helvetica, sans-serif" font-size="10.3" fill="#111" stroke="#111" stroke-width="0.12">
<text x="196.5" y="591.1">1.0</text>
<text x="196.5" y="626.93">0.5</text>
<text x="196.5" y="662.75">0.0</text>
<text x="196.5" y="698.58">−0.5</text>
<text x="196.5" y="734.4">−1.0</text>
</g>
<text transform="translate(227 659.15) rotate(-90)" font-family="'Liberation Sans', Arial, Helvetica, sans-serif" font-size="10.7" fill="#111" stroke="#111" stroke-width="0.12" text-anchor="middle">Proportion of calculable cases</text>
</g>
<g>
<g>
<rect x="263.2" y="587.5" width="16.58" height="16.92" fill="#ff5e5e"/>
<rect x="278.78" y="587.5" width="16.58" height="16.92" fill="#ff2b2b"/>
<rect x="294.36" y="587.5" width="16.58" height="16.92" fill="#ff1c1c"/>
<rect x="309.93" y="587.5" width="16.58" height="16.92" fill="#ff1414"/>
<rect x="325.51" y="587.5" width="16.58" height="16.92" fill="#ff0f0f"/>
<rect x="341.09" y="587.5" width="16.58" height="16.92" fill="#ff0a0a"/>
<rect x="356.67" y="587.5" width="16.58" height="16.92" fill="#ff0808"/>
<rect x="372.24" y="587.5" width="16.58" height="16.92" fill="#ff0808"/>
<rect x="387.82" y="587.5" width="15.58" height="16.92" fill="#ff0505"/>
<rect x="263.2" y="603.42" width="16.58" height="16.92" fill="#ff2e2e"/>
<rect x="278.78" y="603.42" width="16.58" height="16.92" fill="#ff1414"/>
<rect x="294.36" y="603.42" width="16.58" height="16.92" fill="#ff0d0d"/>
<rect x="309.93" y="603.42" width="16.58" height="16.92" fill="#ff0808"/>
<rect x="325.51" y="603.42" width="16.58" height="16.92" fill="#ff0808"/>
<rect x="341.09" y="603.42" width="16.58" height="16.92" fill="#ff0505"/>
<rect x="356.67" y="603.42" width="16.58" height="16.92" fill="#ff0303"/>
<rect x="372.24" y="603.42" width="16.58" height="16.92" fill="#ff0303"/>
<rect x="387.82" y="603.42" width="15.58" height="16.92" fill="#ff0505"/>
<rect x="263.2" y="619.34" width="16.58" height="16.92" fill="#ff1c1c"/>
<rect x="278.78" y="619.34" width="16.58" height="16.92" fill="#ff0a0a"/>
<rect x="294.36" y="619.34" width="16.58" height="16.92" fill="#ff0808"/>
<rect x="309.93" y="619.34" width="16.58" height="16.92" fill="#ff0505"/>
<rect x="325.51" y="619.34" width="16.58" height="16.92" fill="#ff0303"/>
<rect x="341.09" y="619.34" width="16.58" height="16.92" fill="#ff0303"/>
<rect x="356.67" y="619.34" width="16.58" height="16.92" fill="#ff0303"/>
<rect x="372.24" y="619.34" width="16.58" height="16.92" fill="#ff0303"/>
<rect x="387.82" y="619.34" width="15.58" height="16.92" fill="#ff0808"/>
<rect x="263.2" y="635.27" width="16.58" height="16.92" fill="#ff1414"/>
<rect x="278.78" y="635.27" width="16.58" height="16.92" fill="#ff0808"/>
<rect x="294.36" y="635.27" width="16.58" height="16.92" fill="#ff0505"/>
<rect x="309.93" y="635.27" width="16.58" height="16.92" fill="#ff0303"/>
<rect x="325.51" y="635.27" width="16.58" height="16.92" fill="#ff0303"/>
<rect x="341.09" y="635.27" width="16.58" height="16.92" fill="#ff0303"/>
<rect x="356.67" y="635.27" width="16.58" height="16.92" fill="#ff0303"/>
<rect x="372.24" y="635.27" width="16.58" height="16.92" fill="#ff0303"/>
<rect x="387.82" y="635.27" width="15.58" height="16.92" fill="#ff0a0a"/>
<rect x="263.2" y="651.19" width="16.58" height="16.92" fill="#ff0f0f"/>
<rect x="278.78" y="651.19" width="16.58" height="16.92" fill="#ff0808"/>
<rect x="294.36" y="651.19" width="16.58" height="16.92" fill="#ff0505"/>
<rect x="309.93" y="651.19" width="16.58" height="16.92" fill="#ff0303"/>
<rect x="325.51" y="651.19" width="16.58" height="16.92" fill="#ff0303"/>
<rect x="341.09" y="651.19" width="16.58" height="16.92" fill="#ff0303"/>
<rect x="356.67" y="651.19" width="16.58" height="16.92" fill="#ff0303"/>
<rect x="372.24" y="651.19" width="16.58" height="16.92" fill="#ff0505"/>
<rect x="387.82" y="651.19" width="15.58" height="16.92" fill="#ff0a0a"/>
<rect x="263.2" y="667.11" width="16.58" height="16.92" fill="#ff0d0d"/>
<rect x="278.78" y="667.11" width="16.58" height="16.92" fill="#ff0505"/>
<rect x="294.36" y="667.11" width="16.58" height="16.92" fill="#ff0303"/>
<rect x="309.93" y="667.11" width="16.58" height="16.92" fill="#ff0303"/>
<rect x="325.51" y="667.11" width="16.58" height="16.92" fill="#ff0303"/>
<rect x="341.09" y="667.11" width="16.58" height="16.92" fill="#ff0303"/>
<rect x="356.67" y="667.11" width="16.58" height="16.92" fill="#ff0505"/>
<rect x="372.24" y="667.11" width="16.58" height="16.92" fill="#ff0808"/>
<rect x="387.82" y="667.11" width="15.58" height="16.92" fill="#ff0f0f"/>
<rect x="263.2" y="683.03" width="16.58" height="16.92" fill="#ff0a0a"/>
<rect x="278.78" y="683.03" width="16.58" height="16.92" fill="#ff0505"/>
<rect x="294.36" y="683.03" width="16.58" height="16.92" fill="#ff0303"/>
<rect x="309.93" y="683.03" width="16.58" height="16.92" fill="#ff0303"/>
<rect x="325.51" y="683.03" width="16.58" height="16.92" fill="#ff0303"/>
<rect x="341.09" y="683.03" width="16.58" height="16.92" fill="#ff0505"/>
<rect x="356.67" y="683.03" width="16.58" height="16.92" fill="#ff0505"/>
<rect x="372.24" y="683.03" width="16.58" height="16.92" fill="#ff0a0a"/>
<rect x="387.82" y="683.03" width="15.58" height="16.92" fill="#ff1414"/>
<rect x="263.2" y="698.96" width="16.58" height="16.92" fill="#ff0808"/>
<rect x="278.78" y="698.96" width="16.58" height="16.92" fill="#ff0303"/>
<rect x="294.36" y="698.96" width="16.58" height="16.92" fill="#ff0303"/>
<rect x="309.93" y="698.96" width="16.58" height="16.92" fill="#ff0505"/>
<rect x="325.51" y="698.96" width="16.58" height="16.92" fill="#ff0505"/>
<rect x="341.09" y="698.96" width="16.58" height="16.92" fill="#ff0808"/>
<rect x="356.67" y="698.96" width="16.58" height="16.92" fill="#ff0a0a"/>
<rect x="372.24" y="698.96" width="16.58" height="16.92" fill="#ff0f0f"/>
<rect x="387.82" y="698.96" width="15.58" height="16.92" fill="#ff2121"/>
<rect x="263.2" y="714.88" width="16.58" height="15.92" fill="#ff0505"/>
<rect x="278.78" y="714.88" width="16.58" height="15.92" fill="#ff0808"/>
<rect x="294.36" y="714.88" width="16.58" height="15.92" fill="#ff0808"/>
<rect x="309.93" y="714.88" width="16.58" height="15.92" fill="#ff0a0a"/>
<rect x="325.51" y="714.88" width="16.58" height="15.92" fill="#ff0d0d"/>
<rect x="341.09" y="714.88" width="16.58" height="15.92" fill="#ff0f0f"/>
<rect x="356.67" y="714.88" width="16.58" height="15.92" fill="#ff1414"/>
<rect x="372.24" y="714.88" width="16.58" height="15.92" fill="#ff1f1f"/>
<rect x="387.82" y="714.88" width="15.58" height="15.92" fill="#ff4242"/>
</g>
<g font-family="'Liberation Sans', Arial, Helvetica, sans-serif" font-size="6.7" fill="#000" stroke="#000" stroke-width="0.07" letter-spacing="-0.2" text-anchor="middle">
<text x="271.09" y="597.41">0.63</text>
<text x="286.67" y="597.41">0.83</text>
<text x="302.24" y="597.41">0.89</text>
<text x="317.82" y="597.41">0.92</text>
<text x="333.4" y="597.41">0.94</text>
<text x="348.98" y="597.41">0.96</text>
<text x="364.56" y="597.41">0.97</text>
<text x="380.13" y="597.41">0.97</text>
<text x="395.71" y="597.41">0.98</text>
<text x="271.09" y="613.33">0.82</text>
<text x="286.67" y="613.33">0.92</text>
<text x="302.24" y="613.33">0.95</text>
<text x="317.82" y="613.33">0.97</text>
<text x="333.4" y="613.33">0.97</text>
<text x="348.98" y="613.33">0.98</text>
<text x="364.56" y="613.33">0.99</text>
<text x="380.13" y="613.33">0.99</text>
<text x="395.71" y="613.33">0.98</text>
<text x="271.09" y="629.26">0.89</text>
<text x="286.67" y="629.26">0.96</text>
<text x="302.24" y="629.26">0.97</text>
<text x="317.82" y="629.26">0.98</text>
<text x="333.4" y="629.26">0.99</text>
<text x="348.98" y="629.26">0.99</text>
<text x="364.56" y="629.26">0.99</text>
<text x="380.13" y="629.26">0.99</text>
<text x="395.71" y="629.26">0.97</text>
<text x="271.09" y="645.18">0.92</text>
<text x="286.67" y="645.18">0.97</text>
<text x="302.24" y="645.18">0.98</text>
<text x="317.82" y="645.18">0.99</text>
<text x="333.4" y="645.18">0.99</text>
<text x="348.98" y="645.18">0.99</text>
<text x="364.56" y="645.18">0.99</text>
<text x="380.13" y="645.18">0.99</text>
<text x="395.71" y="645.18">0.96</text>
<text x="271.09" y="661.1">0.94</text>
<text x="286.67" y="661.1">0.97</text>
<text x="302.24" y="661.1">0.98</text>
<text x="317.82" y="661.1">0.99</text>
<text x="333.4" y="661.1">0.99</text>
<text x="348.98" y="661.1">0.99</text>
<text x="364.56" y="661.1">0.99</text>
<text x="380.13" y="661.1">0.98</text>
<text x="395.71" y="661.1">0.96</text>
<text x="271.09" y="677.02">0.95</text>
<text x="286.67" y="677.02">0.98</text>
<text x="302.24" y="677.02">0.99</text>
<text x="317.82" y="677.02">0.99</text>
<text x="333.4" y="677.02">0.99</text>
<text x="348.98" y="677.02">0.99</text>
<text x="364.56" y="677.02">0.98</text>
<text x="380.13" y="677.02">0.97</text>
<text x="395.71" y="677.02">0.94</text>
<text x="271.09" y="692.94">0.96</text>
<text x="286.67" y="692.94">0.98</text>
<text x="302.24" y="692.94">0.99</text>
<text x="317.82" y="692.94">0.99</text>
<text x="333.4" y="692.94">0.99</text>
<text x="348.98" y="692.94">0.98</text>
<text x="364.56" y="692.94">0.98</text>
<text x="380.13" y="692.94">0.96</text>
<text x="395.71" y="692.94">0.92</text>
<text x="271.09" y="708.87">0.97</text>
<text x="286.67" y="708.87">0.99</text>
<text x="302.24" y="708.87">0.99</text>
<text x="317.82" y="708.87">0.98</text>
<text x="333.4" y="708.87">0.98</text>
<text x="348.98" y="708.87">0.97</text>
<text x="364.56" y="708.87">0.96</text>
<text x="380.13" y="708.87">0.94</text>
<text x="395.71" y="708.87">0.87</text>
<text x="271.09" y="724.79">0.98</text>
<text x="286.67" y="724.79">0.97</text>
<text x="302.24" y="724.79">0.97</text>
<text x="317.82" y="724.79">0.96</text>
<text x="333.4" y="724.79">0.95</text>
<text x="348.98" y="724.79">0.94</text>
<text x="364.56" y="724.79">0.92</text>
<text x="380.13" y="724.79">0.88</text>
<text x="395.71" y="724.79">0.74</text>
</g>
<rect x="263.2" y="587.5" width="140.2" height="143.3" fill="none" stroke="#222" stroke-width="0.6"/>
<g stroke="#222" stroke-width="0.6">
<line x1="286.57" y1="730.8" x2="286.57" y2="733"/>
<line x1="261" y1="611.38" x2="263.2" y2="611.38"/>
<line x1="317.72" y1="730.8" x2="317.72" y2="733"/>
<line x1="261" y1="643.23" x2="263.2" y2="643.23"/>
<line x1="348.88" y1="730.8" x2="348.88" y2="733"/>
<line x1="261" y1="675.07" x2="263.2" y2="675.07"/>
<line x1="380.03" y1="730.8" x2="380.03" y2="733"/>
<line x1="261" y1="706.92" x2="263.2" y2="706.92"/>
</g>
<g font-family="'Liberation Sans', Arial, Helvetica, sans-serif" font-size="10.3" fill="#111" stroke="#111" stroke-width="0.12">
<text x="286.57" y="742.1" text-anchor="middle">0.2</text>
<text x="317.72" y="742.1" text-anchor="middle">0.4</text>
<text x="348.88" y="742.1" text-anchor="middle">0.6</text>
<text x="380.03" y="742.1" text-anchor="middle">0.8</text>
<text x="258.8" y="614.98" text-anchor="end">0.8</text>
<text x="258.8" y="646.83" text-anchor="end">0.6</text>
<text x="258.8" y="678.67" text-anchor="end">0.4</text>
<text x="258.8" y="710.52" text-anchor="end">0.2</text>
</g>
<text x="333.3" y="584.3" font-family="'DejaVu Sans', 'Liberation Sans', sans-serif" font-style="oblique" font-size="10.1" letter-spacing="0.42" fill="#111" stroke="#111" stroke-width="0.12" text-anchor="middle">MI</text>
<text x="352.2" y="759" font-family="'DejaVu Sans', 'Liberation Sans', sans-serif" font-style="oblique" font-size="10" fill="#111" stroke="#111" stroke-width="0.2" text-anchor="middle">P(C = c′)</text>
<rect x="412.1" y="587.5" width="7.8" height="143.3" fill="url(#bwr)" stroke="#000" stroke-opacity="0.75" stroke-width="0.6"/>
<g stroke="#222" stroke-width="0.6">
<line x1="419.9" y1="587.5" x2="421.8" y2="587.5"/>
<line x1="419.9" y1="623.33" x2="421.8" y2="623.33"/>
<line x1="419.9" y1="659.15" x2="421.8" y2="659.15"/>
<line x1="419.9" y1="694.98" x2="421.8" y2="694.98"/>
<line x1="419.9" y1="730.8" x2="421.8" y2="730.8"/>
</g>
<g font-family="'Liberation Sans', Arial, Helvetica, sans-serif" font-size="10.3" fill="#111" stroke="#111" stroke-width="0.12">
<text x="422.9" y="591.1">1.0</text>
<text x="422.9" y="626.93">0.5</text>
<text x="422.9" y="662.75">0.0</text>
<text x="422.9" y="698.58">−0.5</text>
<text x="422.9" y="734.4">−1.0</text>
</g>
<text transform="translate(453.4 659.15) rotate(-90)" font-family="'Liberation Sans', Arial, Helvetica, sans-serif" font-size="10.7" fill="#111" stroke="#111" stroke-width="0.12" text-anchor="middle">Proportion of calculable cases</text>
</g>
<g>
<g>
<rect x="489.4" y="587.5" width="16.58" height="16.92" fill="#a1a1ff"/>
<rect x="504.98" y="587.5" width="16.58" height="16.92" fill="#9191ff"/>
<rect x="520.56" y="587.5" width="16.58" height="16.92" fill="#a1a1ff"/>
<rect x="536.13" y="587.5" width="16.58" height="16.92" fill="#b5b5ff"/>
<rect x="551.71" y="587.5" width="16.58" height="16.92" fill="#c9c9ff"/>
<rect x="567.29" y="587.5" width="16.58" height="16.92" fill="#d9d9ff"/>
<rect x="582.87" y="587.5" width="16.58" height="16.92" fill="#e8e8ff"/>
<rect x="598.44" y="587.5" width="16.58" height="16.92" fill="#f5f5ff"/>
<rect x="614.02" y="587.5" width="15.58" height="16.92" fill="#fcfcff"/>
<rect x="489.4" y="603.42" width="16.58" height="16.92" fill="#a8a8ff"/>
<rect x="504.98" y="603.42" width="16.58" height="16.92" fill="#bfbfff"/>
<rect x="520.56" y="603.42" width="16.58" height="16.92" fill="#d6d6ff"/>
<rect x="536.13" y="603.42" width="16.58" height="16.92" fill="#e6e6ff"/>
<rect x="551.71" y="603.42" width="16.58" height="16.92" fill="#f0f0ff"/>
<rect x="567.29" y="603.42" width="16.58" height="16.92" fill="#f5f5ff"/>
<rect x="582.87" y="603.42" width="16.58" height="16.92" fill="#fafaff"/>
<rect x="598.44" y="603.42" width="16.58" height="16.92" fill="#fcfcff"/>
<rect x="614.02" y="603.42" width="15.58" height="16.92" fill="#e6e6ff"/>
<rect x="489.4" y="619.34" width="16.58" height="16.92" fill="#c2c2ff"/>
<rect x="504.98" y="619.34" width="16.58" height="16.92" fill="#dedeff"/>
<rect x="520.56" y="619.34" width="16.58" height="16.92" fill="#ebebff"/>
<rect x="536.13" y="619.34" width="16.58" height="16.92" fill="#f2f2ff"/>
<rect x="551.71" y="619.34" width="16.58" height="16.92" fill="#f7f7ff"/>
<rect x="567.29" y="619.34" width="16.58" height="16.92" fill="#fafaff"/>
<rect x="582.87" y="619.34" width="16.58" height="16.92" fill="#fcfcff"/>
<rect x="598.44" y="619.34" width="16.58" height="16.92" fill="#f5f5ff"/>
<rect x="614.02" y="619.34" width="15.58" height="16.92" fill="#bdbdff"/>
<rect x="489.4" y="635.27" width="16.58" height="16.92" fill="#d9d9ff"/>
<rect x="504.98" y="635.27" width="16.58" height="16.92" fill="#ededff"/>
<rect x="520.56" y="635.27" width="16.58" height="16.92" fill="#f5f5ff"/>
<rect x="536.13" y="635.27" width="16.58" height="16.92" fill="#fafaff"/>
<rect x="551.71" y="635.27" width="16.58" height="16.92" fill="#fcfcff"/>
<rect x="567.29" y="635.27" width="16.58" height="16.92" fill="#fcfcff"/>
<rect x="582.87" y="635.27" width="16.58" height="16.92" fill="#f7f7ff"/>
<rect x="598.44" y="635.27" width="16.58" height="16.92" fill="#e3e3ff"/>
<rect x="614.02" y="635.27" width="15.58" height="16.92" fill="#9696ff"/>
<rect x="489.4" y="651.19" width="16.58" height="16.92" fill="#e6e6ff"/>
<rect x="504.98" y="651.19" width="16.58" height="16.92" fill="#f5f5ff"/>
<rect x="520.56" y="651.19" width="16.58" height="16.92" fill="#fafaff"/>
<rect x="536.13" y="651.19" width="16.58" height="16.92" fill="#fcfcff"/>
<rect x="551.71" y="651.19" width="16.58" height="16.92" fill="#fcfcff"/>
<rect x="567.29" y="651.19" width="16.58" height="16.92" fill="#fafaff"/>
<rect x="582.87" y="651.19" width="16.58" height="16.92" fill="#ededff"/>
<rect x="598.44" y="651.19" width="16.58" height="16.92" fill="#c9c9ff"/>
<rect x="614.02" y="651.19" width="15.58" height="16.92" fill="#7d7dff"/>
<rect x="489.4" y="667.11" width="16.58" height="16.92" fill="#f0f0ff"/>
<rect x="504.98" y="667.11" width="16.58" height="16.92" fill="#fafaff"/>
<rect x="520.56" y="667.11" width="16.58" height="16.92" fill="#fcfcff"/>
<rect x="536.13" y="667.11" width="16.58" height="16.92" fill="#fcfcff"/>
<rect x="551.71" y="667.11" width="16.58" height="16.92" fill="#fafaff"/>
<rect x="567.29" y="667.11" width="16.58" height="16.92" fill="#f0f0ff"/>
<rect x="582.87" y="667.11" width="16.58" height="16.92" fill="#dbdbff"/>
<rect x="598.44" y="667.11" width="16.58" height="16.92" fill="#b5b5ff"/>
<rect x="614.02" y="667.11" width="15.58" height="16.92" fill="#6969ff"/>
<rect x="489.4" y="683.03" width="16.58" height="16.92" fill="#f7f7ff"/>
<rect x="504.98" y="683.03" width="16.58" height="16.92" fill="#fcfcff"/>
<rect x="520.56" y="683.03" width="16.58" height="16.92" fill="#fcfcff"/>
<rect x="536.13" y="683.03" width="16.58" height="16.92" fill="#fafaff"/>
<rect x="551.71" y="683.03" width="16.58" height="16.92" fill="#f2f2ff"/>
<rect x="567.29" y="683.03" width="16.58" height="16.92" fill="#e6e6ff"/>
<rect x="582.87" y="683.03" width="16.58" height="16.92" fill="#cfcfff"/>
<rect x="598.44" y="683.03" width="16.58" height="16.92" fill="#a3a3ff"/>
<rect x="614.02" y="683.03" width="15.58" height="16.92" fill="#5e5eff"/>
<rect x="489.4" y="698.96" width="16.58" height="16.92" fill="#fcfcff"/>
<rect x="504.98" y="698.96" width="16.58" height="16.92" fill="#ffffff"/>
<rect x="520.56" y="698.96" width="16.58" height="16.92" fill="#fafaff"/>
<rect x="536.13" y="698.96" width="16.58" height="16.92" fill="#f2f2ff"/>
<rect x="551.71" y="698.96" width="16.58" height="16.92" fill="#e8e8ff"/>
<rect x="567.29" y="698.96" width="16.58" height="16.92" fill="#d9d9ff"/>
<rect x="582.87" y="698.96" width="16.58" height="16.92" fill="#c4c4ff"/>
<rect x="598.44" y="698.96" width="16.58" height="16.92" fill="#9e9eff"/>
<rect x="614.02" y="698.96" width="15.58" height="16.92" fill="#6161ff"/>
<rect x="489.4" y="714.88" width="16.58" height="15.92" fill="#ffffff"/>
<rect x="504.98" y="714.88" width="16.58" height="15.92" fill="#f7f7ff"/>
<rect x="520.56" y="714.88" width="16.58" height="15.92" fill="#f0f0ff"/>
<rect x="536.13" y="714.88" width="16.58" height="15.92" fill="#e8e8ff"/>
<rect x="551.71" y="714.88" width="16.58" height="15.92" fill="#dedeff"/>
<rect x="567.29" y="714.88" width="16.58" height="15.92" fill="#d4d4ff"/>
<rect x="582.87" y="714.88" width="16.58" height="15.92" fill="#c2c2ff"/>
<rect x="598.44" y="714.88" width="16.58" height="15.92" fill="#a3a3ff"/>
<rect x="614.02" y="714.88" width="15.58" height="15.92" fill="#8282ff"/>
</g>
<g font-family="'Liberation Sans', Arial, Helvetica, sans-serif" font-size="6.7" fill="#000" stroke="#000" stroke-width="0.07" letter-spacing="-0.2" text-anchor="middle">
<text x="497.29" y="597.41">-0.37</text>
<text x="512.87" y="597.41">-0.43</text>
<text x="528.44" y="597.41">-0.37</text>
<text x="544.02" y="597.41">-0.29</text>
<text x="559.6" y="597.41">-0.21</text>
<text x="575.18" y="597.41">-0.15</text>
<text x="590.76" y="597.41">-0.09</text>
<text x="606.33" y="597.41">-0.04</text>
<text x="621.91" y="597.41">-0.01</text>
<text x="497.29" y="613.33">-0.34</text>
<text x="512.87" y="613.33">-0.25</text>
<text x="528.44" y="613.33">-0.16</text>
<text x="544.02" y="613.33">-0.1</text>
<text x="559.6" y="613.33">-0.06</text>
<text x="575.18" y="613.33">-0.04</text>
<text x="590.76" y="613.33">-0.02</text>
<text x="606.33" y="613.33">-0.01</text>
<text x="621.91" y="613.33">-0.1</text>
<text x="497.29" y="629.26">-0.24</text>
<text x="512.87" y="629.26">-0.13</text>
<text x="528.44" y="629.26">-0.08</text>
<text x="544.02" y="629.26">-0.05</text>
<text x="559.6" y="629.26">-0.03</text>
<text x="575.18" y="629.26">-0.02</text>
<text x="590.76" y="629.26">-0.01</text>
<text x="606.33" y="629.26">-0.04</text>
<text x="621.91" y="629.26">-0.26</text>
<text x="497.29" y="645.18">-0.15</text>
<text x="512.87" y="645.18">-0.07</text>
<text x="528.44" y="645.18">-0.04</text>
<text x="544.02" y="645.18">-0.02</text>
<text x="559.6" y="645.18">-0.01</text>
<text x="575.18" y="645.18">-0.01</text>
<text x="590.76" y="645.18">-0.03</text>
<text x="606.33" y="645.18">-0.11</text>
<text x="621.91" y="645.18">-0.41</text>
<text x="497.29" y="661.1">-0.1</text>
<text x="512.87" y="661.1">-0.04</text>
<text x="528.44" y="661.1">-0.02</text>
<text x="544.02" y="661.1">-0.01</text>
<text x="559.6" y="661.1">-0.01</text>
<text x="575.18" y="661.1">-0.02</text>
<text x="590.76" y="661.1">-0.07</text>
<text x="606.33" y="661.1">-0.21</text>
<text x="621.91" y="661.1">-0.51</text>
<text x="497.29" y="677.02">-0.06</text>
<text x="512.87" y="677.02">-0.02</text>
<text x="528.44" y="677.02">-0.01</text>
<text x="544.02" y="677.02">-0.01</text>
<text x="559.6" y="677.02">-0.02</text>
<text x="575.18" y="677.02">-0.06</text>
<text x="590.76" y="677.02">-0.14</text>
<text x="606.33" y="677.02">-0.29</text>
<text x="621.91" y="677.02">-0.59</text>
<text x="497.29" y="692.94">-0.03</text>
<text x="512.87" y="692.94">-0.01</text>
<text x="528.44" y="692.94">-0.01</text>
<text x="544.02" y="692.94">-0.02</text>
<text x="559.6" y="692.94">-0.05</text>
<text x="575.18" y="692.94">-0.1</text>
<text x="590.76" y="692.94">-0.19</text>
<text x="606.33" y="692.94">-0.36</text>
<text x="621.91" y="692.94">-0.63</text>
<text x="497.29" y="708.87">-0.01</text>
<text x="512.87" y="708.87">-0.0</text>
<text x="528.44" y="708.87">-0.02</text>
<text x="544.02" y="708.87">-0.05</text>
<text x="559.6" y="708.87">-0.09</text>
<text x="575.18" y="708.87">-0.15</text>
<text x="590.76" y="708.87">-0.23</text>
<text x="606.33" y="708.87">-0.38</text>
<text x="621.91" y="708.87">-0.62</text>
<text x="497.29" y="724.79">0.0</text>
<text x="512.87" y="724.79">-0.03</text>
<text x="528.44" y="724.79">-0.06</text>
<text x="544.02" y="724.79">-0.09</text>
<text x="559.6" y="724.79">-0.13</text>
<text x="575.18" y="724.79">-0.17</text>
<text x="590.76" y="724.79">-0.24</text>
<text x="606.33" y="724.79">-0.36</text>
<text x="621.91" y="724.79">-0.49</text>
</g>
<rect x="489.4" y="587.5" width="140.2" height="143.3" fill="none" stroke="#222" stroke-width="0.6"/>
<g stroke="#222" stroke-width="0.6">
<line x1="512.77" y1="730.8" x2="512.77" y2="733"/>
<line x1="487.2" y1="611.38" x2="489.4" y2="611.38"/>
<line x1="543.92" y1="730.8" x2="543.92" y2="733"/>
<line x1="487.2" y1="643.23" x2="489.4" y2="643.23"/>
<line x1="575.08" y1="730.8" x2="575.08" y2="733"/>
<line x1="487.2" y1="675.07" x2="489.4" y2="675.07"/>
<line x1="606.23" y1="730.8" x2="606.23" y2="733"/>
<line x1="487.2" y1="706.92" x2="489.4" y2="706.92"/>
</g>
<g font-family="'Liberation Sans', Arial, Helvetica, sans-serif" font-size="10.3" fill="#111" stroke="#111" stroke-width="0.12">
<text x="512.77" y="742.1" text-anchor="middle">0.2</text>
<text x="543.92" y="742.1" text-anchor="middle">0.4</text>
<text x="575.08" y="742.1" text-anchor="middle">0.6</text>
<text x="606.23" y="742.1" text-anchor="middle">0.8</text>
<text x="485" y="614.98" text-anchor="end">0.8</text>
<text x="485" y="646.83" text-anchor="end">0.6</text>
<text x="485" y="678.67" text-anchor="end">0.4</text>
<text x="485" y="710.52" text-anchor="end">0.2</text>
</g>
<text x="559.5" y="584.3" font-family="'DejaVu Sans', 'Liberation Sans', sans-serif" font-style="oblique" font-size="10.1" letter-spacing="0.42" fill="#111" stroke="#111" stroke-width="0.12" text-anchor="middle">pARIs<tspan font-size="7.6" letter-spacing="0.05" dy="1.0">mean</tspan><tspan dy="-1.0" letter-spacing="0" word-spacing="-0.9"> − </tspan><tspan>MI</tspan></text>
<rect x="638.3" y="587.5" width="7.8" height="143.3" fill="url(#bwr)" stroke="#000" stroke-opacity="0.75" stroke-width="0.6"/>
<g stroke="#222" stroke-width="0.6">
<line x1="646.1" y1="587.5" x2="648" y2="587.5"/>
<line x1="646.1" y1="623.33" x2="648" y2="623.33"/>
<line x1="646.1" y1="659.15" x2="648" y2="659.15"/>
<line x1="646.1" y1="694.98" x2="648" y2="694.98"/>
<line x1="646.1" y1="730.8" x2="648" y2="730.8"/>
</g>
<g font-family="'Liberation Sans', Arial, Helvetica, sans-serif" font-size="10.3" fill="#111" stroke="#111" stroke-width="0.12">
<text x="649.1" y="591.1">1.0</text>
<text x="649.1" y="626.93">0.5</text>
<text x="649.1" y="662.75">0.0</text>
<text x="649.1" y="698.58">−0.5</text>
<text x="649.1" y="734.4">−1.0</text>
</g>
<text transform="translate(679.6 659.15) rotate(-90)" font-family="'Liberation Sans', Arial, Helvetica, sans-serif" font-size="10.7" fill="#111" stroke="#111" stroke-width="0.12" text-anchor="middle">Difference in proportions</text>
</g>
</svg>
</body>
</html>
